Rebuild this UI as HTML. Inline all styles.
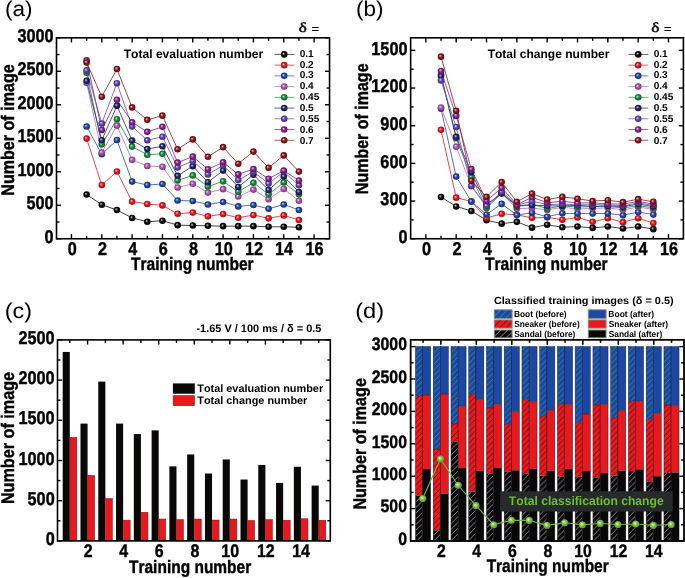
<!DOCTYPE html>
<html><head><meta charset="utf-8"><style>
html,body{margin:0;padding:0;background:#fff;}
svg{display:block;will-change:transform;}
text{font-kerning:none;text-rendering:geometricPrecision;}
</style></head><body>
<svg width="685" height="578" viewBox="0 0 685 578">
<rect width="685" height="578" fill="#fff"/>
<defs><radialGradient id="gk" cx="0.5" cy="0.5" r="0.55" fx="0.37" fy="0.36"><stop offset="0" stop-color="#cecece"/><stop offset="0.18" stop-color="#787878"/><stop offset="0.45" stop-color="#0a0a0a"/><stop offset="1" stop-color="#060606"/></radialGradient><radialGradient id="gr" cx="0.5" cy="0.5" r="0.55" fx="0.37" fy="0.36"><stop offset="0" stop-color="#fad0d2"/><stop offset="0.18" stop-color="#f27e82"/><stop offset="0.45" stop-color="#e8141c"/><stop offset="1" stop-color="#970d12"/></radialGradient><radialGradient id="gb" cx="0.5" cy="0.5" r="0.55" fx="0.37" fy="0.36"><stop offset="0" stop-color="#d2daee"/><stop offset="0.18" stop-color="#8499cf"/><stop offset="0.45" stop-color="#1f45a8"/><stop offset="1" stop-color="#142d6d"/></radialGradient><radialGradient id="gp" cx="0.5" cy="0.5" r="0.55" fx="0.37" fy="0.36"><stop offset="0" stop-color="#efdcef"/><stop offset="0.18" stop-color="#d49fd4"/><stop offset="0.45" stop-color="#b050b0"/><stop offset="1" stop-color="#723472"/></radialGradient><radialGradient id="gg" cx="0.5" cy="0.5" r="0.55" fx="0.37" fy="0.36"><stop offset="0" stop-color="#d1e8d7"/><stop offset="0.18" stop-color="#80bf92"/><stop offset="0.45" stop-color="#188a38"/><stop offset="1" stop-color="#105a24"/></radialGradient><radialGradient id="gn" cx="0.5" cy="0.5" r="0.55" fx="0.37" fy="0.36"><stop offset="0" stop-color="#d2d3e1"/><stop offset="0.18" stop-color="#8287ac"/><stop offset="0.45" stop-color="#1c2468"/><stop offset="1" stop-color="#121744"/></radialGradient><radialGradient id="gv" cx="0.5" cy="0.5" r="0.55" fx="0.37" fy="0.36"><stop offset="0" stop-color="#dfd9ef"/><stop offset="0.18" stop-color="#a896d4"/><stop offset="0.45" stop-color="#6040b0"/><stop offset="1" stop-color="#3e2a72"/></radialGradient><radialGradient id="gu" cx="0.5" cy="0.5" r="0.55" fx="0.37" fy="0.36"><stop offset="0" stop-color="#e6d2e8"/><stop offset="0.18" stop-color="#bb84c0"/><stop offset="0.45" stop-color="#84208c"/><stop offset="1" stop-color="#56155b"/></radialGradient><radialGradient id="gm" cx="0.5" cy="0.5" r="0.55" fx="0.37" fy="0.36"><stop offset="0" stop-color="#e8d0d1"/><stop offset="0.18" stop-color="#c07e80"/><stop offset="0.45" stop-color="#8c1418"/><stop offset="1" stop-color="#5b0d10"/></radialGradient><radialGradient id="gL" cx="0.5" cy="0.5" r="0.55" fx="0.37" fy="0.36"><stop offset="0" stop-color="#e7f5da"/><stop offset="0.18" stop-color="#bce39a"/><stop offset="0.45" stop-color="#86cc48"/><stop offset="1" stop-color="#57852f"/></radialGradient></defs>
<polyline points="86.62,194.53 101.78,204.73 116.94,210.00 132.11,217.93 147.27,221.73 162.44,220.73 177.61,225.13 192.77,225.47 207.94,225.80 223.10,226.13 238.26,226.13 253.43,226.13 268.59,226.80 283.76,226.80 298.93,227.20" fill="none" stroke="#222" stroke-width="1" stroke-opacity="0.85"/>
<polyline points="86.62,138.60 101.78,185.00 116.94,171.53 132.11,201.60 147.27,204.00 162.44,205.40 177.61,213.73 192.77,212.60 207.94,216.33 223.10,214.00 238.26,217.80 253.43,215.00 268.59,218.33 283.76,215.40 298.93,220.00" fill="none" stroke="#e8242c" stroke-width="1" stroke-opacity="0.85"/>
<polyline points="86.62,126.47 101.78,154.27 116.94,140.00 132.11,181.60 147.27,185.00 162.44,184.00 177.61,200.53 192.77,200.93 207.94,204.53 223.10,201.93 238.26,206.40 253.43,205.00 268.59,208.80 283.76,204.53 298.93,209.93" fill="none" stroke="#3558b0" stroke-width="1" stroke-opacity="0.85"/>
<polyline points="86.62,82.87 101.78,152.60 116.94,125.60 132.11,159.87 147.27,166.00 162.44,166.73 177.61,187.53 192.77,183.73 207.94,192.60 223.10,189.13 238.26,196.53 253.43,189.60 268.59,199.27 283.76,188.93 298.93,200.73" fill="none" stroke="#c070c0" stroke-width="1" stroke-opacity="0.85"/>
<polyline points="86.62,72.80 101.78,144.33 116.94,119.20 132.11,146.60 147.27,154.73 162.44,153.73 177.61,180.40 192.77,175.40 207.94,186.53 223.10,181.33 238.26,191.73 253.43,182.73 268.59,194.33 283.76,182.40 298.93,194.33" fill="none" stroke="#209040" stroke-width="1" stroke-opacity="0.85"/>
<polyline points="86.62,80.80 101.78,140.20 116.94,105.73 132.11,140.60 147.27,149.00 162.44,146.27 177.61,175.80 192.77,166.13 207.94,182.20 223.10,170.60 238.26,186.93 253.43,174.73 268.59,190.00 283.76,176.53 298.93,192.00" fill="none" stroke="#2a3478" stroke-width="1" stroke-opacity="0.85"/>
<polyline points="86.62,70.40 101.78,123.53 116.94,83.20 132.11,126.47 147.27,140.20 162.44,136.73 177.61,167.47 192.77,160.93 207.94,174.40 223.10,165.40 238.26,179.93 253.43,171.80 268.59,183.60 283.76,171.80 298.93,185.27" fill="none" stroke="#7058b8" stroke-width="1" stroke-opacity="0.85"/>
<polyline points="86.62,60.40 101.78,129.93 116.94,99.73 132.11,122.27 147.27,131.87 162.44,126.80 177.61,162.60 192.77,156.60 207.94,169.20 223.10,162.33 238.26,174.40 253.43,168.93 268.59,178.73 283.76,170.60 298.93,180.60" fill="none" stroke="#902a98" stroke-width="1" stroke-opacity="0.85"/>
<polyline points="86.62,62.47 101.78,96.73 116.94,69.00 132.11,107.40 147.27,119.87 162.44,115.67 177.61,149.27 192.77,139.40 207.94,156.73 223.10,147.13 238.26,163.73 253.43,151.60 268.59,167.80 283.76,155.40 298.93,171.60" fill="none" stroke="#94242a" stroke-width="1" stroke-opacity="0.85"/>
<circle cx="86.62" cy="194.53" r="3.3" fill="url(#gk)"/>
<circle cx="101.78" cy="204.73" r="3.3" fill="url(#gk)"/>
<circle cx="116.94" cy="210.00" r="3.3" fill="url(#gk)"/>
<circle cx="132.11" cy="217.93" r="3.3" fill="url(#gk)"/>
<circle cx="147.27" cy="221.73" r="3.3" fill="url(#gk)"/>
<circle cx="162.44" cy="220.73" r="3.3" fill="url(#gk)"/>
<circle cx="177.61" cy="225.13" r="3.3" fill="url(#gk)"/>
<circle cx="192.77" cy="225.47" r="3.3" fill="url(#gk)"/>
<circle cx="207.94" cy="225.80" r="3.3" fill="url(#gk)"/>
<circle cx="223.10" cy="226.13" r="3.3" fill="url(#gk)"/>
<circle cx="238.26" cy="226.13" r="3.3" fill="url(#gk)"/>
<circle cx="253.43" cy="226.13" r="3.3" fill="url(#gk)"/>
<circle cx="268.59" cy="226.80" r="3.3" fill="url(#gk)"/>
<circle cx="283.76" cy="226.80" r="3.3" fill="url(#gk)"/>
<circle cx="298.93" cy="227.20" r="3.3" fill="url(#gk)"/>
<circle cx="86.62" cy="138.60" r="3.3" fill="url(#gr)"/>
<circle cx="101.78" cy="185.00" r="3.3" fill="url(#gr)"/>
<circle cx="116.94" cy="171.53" r="3.3" fill="url(#gr)"/>
<circle cx="132.11" cy="201.60" r="3.3" fill="url(#gr)"/>
<circle cx="147.27" cy="204.00" r="3.3" fill="url(#gr)"/>
<circle cx="162.44" cy="205.40" r="3.3" fill="url(#gr)"/>
<circle cx="177.61" cy="213.73" r="3.3" fill="url(#gr)"/>
<circle cx="192.77" cy="212.60" r="3.3" fill="url(#gr)"/>
<circle cx="207.94" cy="216.33" r="3.3" fill="url(#gr)"/>
<circle cx="223.10" cy="214.00" r="3.3" fill="url(#gr)"/>
<circle cx="238.26" cy="217.80" r="3.3" fill="url(#gr)"/>
<circle cx="253.43" cy="215.00" r="3.3" fill="url(#gr)"/>
<circle cx="268.59" cy="218.33" r="3.3" fill="url(#gr)"/>
<circle cx="283.76" cy="215.40" r="3.3" fill="url(#gr)"/>
<circle cx="298.93" cy="220.00" r="3.3" fill="url(#gr)"/>
<circle cx="86.62" cy="126.47" r="3.3" fill="url(#gb)"/>
<circle cx="101.78" cy="154.27" r="3.3" fill="url(#gb)"/>
<circle cx="116.94" cy="140.00" r="3.3" fill="url(#gb)"/>
<circle cx="132.11" cy="181.60" r="3.3" fill="url(#gb)"/>
<circle cx="147.27" cy="185.00" r="3.3" fill="url(#gb)"/>
<circle cx="162.44" cy="184.00" r="3.3" fill="url(#gb)"/>
<circle cx="177.61" cy="200.53" r="3.3" fill="url(#gb)"/>
<circle cx="192.77" cy="200.93" r="3.3" fill="url(#gb)"/>
<circle cx="207.94" cy="204.53" r="3.3" fill="url(#gb)"/>
<circle cx="223.10" cy="201.93" r="3.3" fill="url(#gb)"/>
<circle cx="238.26" cy="206.40" r="3.3" fill="url(#gb)"/>
<circle cx="253.43" cy="205.00" r="3.3" fill="url(#gb)"/>
<circle cx="268.59" cy="208.80" r="3.3" fill="url(#gb)"/>
<circle cx="283.76" cy="204.53" r="3.3" fill="url(#gb)"/>
<circle cx="298.93" cy="209.93" r="3.3" fill="url(#gb)"/>
<circle cx="86.62" cy="82.87" r="3.3" fill="url(#gp)"/>
<circle cx="101.78" cy="152.60" r="3.3" fill="url(#gp)"/>
<circle cx="116.94" cy="125.60" r="3.3" fill="url(#gp)"/>
<circle cx="132.11" cy="159.87" r="3.3" fill="url(#gp)"/>
<circle cx="147.27" cy="166.00" r="3.3" fill="url(#gp)"/>
<circle cx="162.44" cy="166.73" r="3.3" fill="url(#gp)"/>
<circle cx="177.61" cy="187.53" r="3.3" fill="url(#gp)"/>
<circle cx="192.77" cy="183.73" r="3.3" fill="url(#gp)"/>
<circle cx="207.94" cy="192.60" r="3.3" fill="url(#gp)"/>
<circle cx="223.10" cy="189.13" r="3.3" fill="url(#gp)"/>
<circle cx="238.26" cy="196.53" r="3.3" fill="url(#gp)"/>
<circle cx="253.43" cy="189.60" r="3.3" fill="url(#gp)"/>
<circle cx="268.59" cy="199.27" r="3.3" fill="url(#gp)"/>
<circle cx="283.76" cy="188.93" r="3.3" fill="url(#gp)"/>
<circle cx="298.93" cy="200.73" r="3.3" fill="url(#gp)"/>
<circle cx="86.62" cy="72.80" r="3.3" fill="url(#gg)"/>
<circle cx="101.78" cy="144.33" r="3.3" fill="url(#gg)"/>
<circle cx="116.94" cy="119.20" r="3.3" fill="url(#gg)"/>
<circle cx="132.11" cy="146.60" r="3.3" fill="url(#gg)"/>
<circle cx="147.27" cy="154.73" r="3.3" fill="url(#gg)"/>
<circle cx="162.44" cy="153.73" r="3.3" fill="url(#gg)"/>
<circle cx="177.61" cy="180.40" r="3.3" fill="url(#gg)"/>
<circle cx="192.77" cy="175.40" r="3.3" fill="url(#gg)"/>
<circle cx="207.94" cy="186.53" r="3.3" fill="url(#gg)"/>
<circle cx="223.10" cy="181.33" r="3.3" fill="url(#gg)"/>
<circle cx="238.26" cy="191.73" r="3.3" fill="url(#gg)"/>
<circle cx="253.43" cy="182.73" r="3.3" fill="url(#gg)"/>
<circle cx="268.59" cy="194.33" r="3.3" fill="url(#gg)"/>
<circle cx="283.76" cy="182.40" r="3.3" fill="url(#gg)"/>
<circle cx="298.93" cy="194.33" r="3.3" fill="url(#gg)"/>
<circle cx="86.62" cy="80.80" r="3.3" fill="url(#gn)"/>
<circle cx="101.78" cy="140.20" r="3.3" fill="url(#gn)"/>
<circle cx="116.94" cy="105.73" r="3.3" fill="url(#gn)"/>
<circle cx="132.11" cy="140.60" r="3.3" fill="url(#gn)"/>
<circle cx="147.27" cy="149.00" r="3.3" fill="url(#gn)"/>
<circle cx="162.44" cy="146.27" r="3.3" fill="url(#gn)"/>
<circle cx="177.61" cy="175.80" r="3.3" fill="url(#gn)"/>
<circle cx="192.77" cy="166.13" r="3.3" fill="url(#gn)"/>
<circle cx="207.94" cy="182.20" r="3.3" fill="url(#gn)"/>
<circle cx="223.10" cy="170.60" r="3.3" fill="url(#gn)"/>
<circle cx="238.26" cy="186.93" r="3.3" fill="url(#gn)"/>
<circle cx="253.43" cy="174.73" r="3.3" fill="url(#gn)"/>
<circle cx="268.59" cy="190.00" r="3.3" fill="url(#gn)"/>
<circle cx="283.76" cy="176.53" r="3.3" fill="url(#gn)"/>
<circle cx="298.93" cy="192.00" r="3.3" fill="url(#gn)"/>
<circle cx="86.62" cy="70.40" r="3.3" fill="url(#gv)"/>
<circle cx="101.78" cy="123.53" r="3.3" fill="url(#gv)"/>
<circle cx="116.94" cy="83.20" r="3.3" fill="url(#gv)"/>
<circle cx="132.11" cy="126.47" r="3.3" fill="url(#gv)"/>
<circle cx="147.27" cy="140.20" r="3.3" fill="url(#gv)"/>
<circle cx="162.44" cy="136.73" r="3.3" fill="url(#gv)"/>
<circle cx="177.61" cy="167.47" r="3.3" fill="url(#gv)"/>
<circle cx="192.77" cy="160.93" r="3.3" fill="url(#gv)"/>
<circle cx="207.94" cy="174.40" r="3.3" fill="url(#gv)"/>
<circle cx="223.10" cy="165.40" r="3.3" fill="url(#gv)"/>
<circle cx="238.26" cy="179.93" r="3.3" fill="url(#gv)"/>
<circle cx="253.43" cy="171.80" r="3.3" fill="url(#gv)"/>
<circle cx="268.59" cy="183.60" r="3.3" fill="url(#gv)"/>
<circle cx="283.76" cy="171.80" r="3.3" fill="url(#gv)"/>
<circle cx="298.93" cy="185.27" r="3.3" fill="url(#gv)"/>
<circle cx="86.62" cy="60.40" r="3.3" fill="url(#gu)"/>
<circle cx="101.78" cy="129.93" r="3.3" fill="url(#gu)"/>
<circle cx="116.94" cy="99.73" r="3.3" fill="url(#gu)"/>
<circle cx="132.11" cy="122.27" r="3.3" fill="url(#gu)"/>
<circle cx="147.27" cy="131.87" r="3.3" fill="url(#gu)"/>
<circle cx="162.44" cy="126.80" r="3.3" fill="url(#gu)"/>
<circle cx="177.61" cy="162.60" r="3.3" fill="url(#gu)"/>
<circle cx="192.77" cy="156.60" r="3.3" fill="url(#gu)"/>
<circle cx="207.94" cy="169.20" r="3.3" fill="url(#gu)"/>
<circle cx="223.10" cy="162.33" r="3.3" fill="url(#gu)"/>
<circle cx="238.26" cy="174.40" r="3.3" fill="url(#gu)"/>
<circle cx="253.43" cy="168.93" r="3.3" fill="url(#gu)"/>
<circle cx="268.59" cy="178.73" r="3.3" fill="url(#gu)"/>
<circle cx="283.76" cy="170.60" r="3.3" fill="url(#gu)"/>
<circle cx="298.93" cy="180.60" r="3.3" fill="url(#gu)"/>
<circle cx="86.62" cy="62.47" r="3.3" fill="url(#gm)"/>
<circle cx="101.78" cy="96.73" r="3.3" fill="url(#gm)"/>
<circle cx="116.94" cy="69.00" r="3.3" fill="url(#gm)"/>
<circle cx="132.11" cy="107.40" r="3.3" fill="url(#gm)"/>
<circle cx="147.27" cy="119.87" r="3.3" fill="url(#gm)"/>
<circle cx="162.44" cy="115.67" r="3.3" fill="url(#gm)"/>
<circle cx="177.61" cy="149.27" r="3.3" fill="url(#gm)"/>
<circle cx="192.77" cy="139.40" r="3.3" fill="url(#gm)"/>
<circle cx="207.94" cy="156.73" r="3.3" fill="url(#gm)"/>
<circle cx="223.10" cy="147.13" r="3.3" fill="url(#gm)"/>
<circle cx="238.26" cy="163.73" r="3.3" fill="url(#gm)"/>
<circle cx="253.43" cy="151.60" r="3.3" fill="url(#gm)"/>
<circle cx="268.59" cy="167.80" r="3.3" fill="url(#gm)"/>
<circle cx="283.76" cy="155.40" r="3.3" fill="url(#gm)"/>
<circle cx="298.93" cy="171.60" r="3.3" fill="url(#gm)"/>
<rect x="56.50" y="37.80" width="273.05" height="200.95" fill="none" stroke="#000" stroke-width="1.6"/>
<line x1="71.45" y1="238.75" x2="71.45" y2="234.15" stroke="#000" stroke-width="1.4"/>
<line x1="71.45" y1="37.80" x2="71.45" y2="42.40" stroke="#000" stroke-width="1.4"/>
<line x1="86.62" y1="238.75" x2="86.62" y2="235.75" stroke="#000" stroke-width="1.4"/>
<line x1="86.62" y1="37.80" x2="86.62" y2="40.80" stroke="#000" stroke-width="1.4"/>
<line x1="101.78" y1="238.75" x2="101.78" y2="234.15" stroke="#000" stroke-width="1.4"/>
<line x1="101.78" y1="37.80" x2="101.78" y2="42.40" stroke="#000" stroke-width="1.4"/>
<line x1="116.94" y1="238.75" x2="116.94" y2="235.75" stroke="#000" stroke-width="1.4"/>
<line x1="116.94" y1="37.80" x2="116.94" y2="40.80" stroke="#000" stroke-width="1.4"/>
<line x1="132.11" y1="238.75" x2="132.11" y2="234.15" stroke="#000" stroke-width="1.4"/>
<line x1="132.11" y1="37.80" x2="132.11" y2="42.40" stroke="#000" stroke-width="1.4"/>
<line x1="147.27" y1="238.75" x2="147.27" y2="235.75" stroke="#000" stroke-width="1.4"/>
<line x1="147.27" y1="37.80" x2="147.27" y2="40.80" stroke="#000" stroke-width="1.4"/>
<line x1="162.44" y1="238.75" x2="162.44" y2="234.15" stroke="#000" stroke-width="1.4"/>
<line x1="162.44" y1="37.80" x2="162.44" y2="42.40" stroke="#000" stroke-width="1.4"/>
<line x1="177.61" y1="238.75" x2="177.61" y2="235.75" stroke="#000" stroke-width="1.4"/>
<line x1="177.61" y1="37.80" x2="177.61" y2="40.80" stroke="#000" stroke-width="1.4"/>
<line x1="192.77" y1="238.75" x2="192.77" y2="234.15" stroke="#000" stroke-width="1.4"/>
<line x1="192.77" y1="37.80" x2="192.77" y2="42.40" stroke="#000" stroke-width="1.4"/>
<line x1="207.94" y1="238.75" x2="207.94" y2="235.75" stroke="#000" stroke-width="1.4"/>
<line x1="207.94" y1="37.80" x2="207.94" y2="40.80" stroke="#000" stroke-width="1.4"/>
<line x1="223.10" y1="238.75" x2="223.10" y2="234.15" stroke="#000" stroke-width="1.4"/>
<line x1="223.10" y1="37.80" x2="223.10" y2="42.40" stroke="#000" stroke-width="1.4"/>
<line x1="238.26" y1="238.75" x2="238.26" y2="235.75" stroke="#000" stroke-width="1.4"/>
<line x1="238.26" y1="37.80" x2="238.26" y2="40.80" stroke="#000" stroke-width="1.4"/>
<line x1="253.43" y1="238.75" x2="253.43" y2="234.15" stroke="#000" stroke-width="1.4"/>
<line x1="253.43" y1="37.80" x2="253.43" y2="42.40" stroke="#000" stroke-width="1.4"/>
<line x1="268.59" y1="238.75" x2="268.59" y2="235.75" stroke="#000" stroke-width="1.4"/>
<line x1="268.59" y1="37.80" x2="268.59" y2="40.80" stroke="#000" stroke-width="1.4"/>
<line x1="283.76" y1="238.75" x2="283.76" y2="234.15" stroke="#000" stroke-width="1.4"/>
<line x1="283.76" y1="37.80" x2="283.76" y2="42.40" stroke="#000" stroke-width="1.4"/>
<line x1="298.93" y1="238.75" x2="298.93" y2="235.75" stroke="#000" stroke-width="1.4"/>
<line x1="298.93" y1="37.80" x2="298.93" y2="40.80" stroke="#000" stroke-width="1.4"/>
<line x1="314.09" y1="238.75" x2="314.09" y2="234.15" stroke="#000" stroke-width="1.4"/>
<line x1="314.09" y1="37.80" x2="314.09" y2="42.40" stroke="#000" stroke-width="1.4"/>
<line x1="56.50" y1="238.75" x2="61.10" y2="238.75" stroke="#000" stroke-width="1.4"/>
<line x1="329.55" y1="238.75" x2="324.95" y2="238.75" stroke="#000" stroke-width="1.4"/>
<line x1="56.50" y1="222.00" x2="59.50" y2="222.00" stroke="#000" stroke-width="1.4"/>
<line x1="329.55" y1="222.00" x2="326.55" y2="222.00" stroke="#000" stroke-width="1.4"/>
<line x1="56.50" y1="205.26" x2="61.10" y2="205.26" stroke="#000" stroke-width="1.4"/>
<line x1="329.55" y1="205.26" x2="324.95" y2="205.26" stroke="#000" stroke-width="1.4"/>
<line x1="56.50" y1="188.51" x2="59.50" y2="188.51" stroke="#000" stroke-width="1.4"/>
<line x1="329.55" y1="188.51" x2="326.55" y2="188.51" stroke="#000" stroke-width="1.4"/>
<line x1="56.50" y1="171.77" x2="61.10" y2="171.77" stroke="#000" stroke-width="1.4"/>
<line x1="329.55" y1="171.77" x2="324.95" y2="171.77" stroke="#000" stroke-width="1.4"/>
<line x1="56.50" y1="155.02" x2="59.50" y2="155.02" stroke="#000" stroke-width="1.4"/>
<line x1="329.55" y1="155.02" x2="326.55" y2="155.02" stroke="#000" stroke-width="1.4"/>
<line x1="56.50" y1="138.28" x2="61.10" y2="138.28" stroke="#000" stroke-width="1.4"/>
<line x1="329.55" y1="138.28" x2="324.95" y2="138.28" stroke="#000" stroke-width="1.4"/>
<line x1="56.50" y1="121.53" x2="59.50" y2="121.53" stroke="#000" stroke-width="1.4"/>
<line x1="329.55" y1="121.53" x2="326.55" y2="121.53" stroke="#000" stroke-width="1.4"/>
<line x1="56.50" y1="104.78" x2="61.10" y2="104.78" stroke="#000" stroke-width="1.4"/>
<line x1="329.55" y1="104.78" x2="324.95" y2="104.78" stroke="#000" stroke-width="1.4"/>
<line x1="56.50" y1="88.04" x2="59.50" y2="88.04" stroke="#000" stroke-width="1.4"/>
<line x1="329.55" y1="88.04" x2="326.55" y2="88.04" stroke="#000" stroke-width="1.4"/>
<line x1="56.50" y1="71.29" x2="61.10" y2="71.29" stroke="#000" stroke-width="1.4"/>
<line x1="329.55" y1="71.29" x2="324.95" y2="71.29" stroke="#000" stroke-width="1.4"/>
<line x1="56.50" y1="54.55" x2="59.50" y2="54.55" stroke="#000" stroke-width="1.4"/>
<line x1="329.55" y1="54.55" x2="326.55" y2="54.55" stroke="#000" stroke-width="1.4"/>
<line x1="56.50" y1="37.80" x2="61.10" y2="37.80" stroke="#000" stroke-width="1.4"/>
<line x1="329.55" y1="37.80" x2="324.95" y2="37.80" stroke="#000" stroke-width="1.4"/>
<text x="17.43" y="41.95" font-family="Liberation Sans" font-weight="bold" font-size="18.50" textLength="36.13" lengthAdjust="spacingAndGlyphs" fill="#000" stroke="#000" stroke-width="0.4">3000</text>
<text x="17.43" y="75.44" font-family="Liberation Sans" font-weight="bold" font-size="18.50" textLength="36.13" lengthAdjust="spacingAndGlyphs" fill="#000" stroke="#000" stroke-width="0.4">2500</text>
<text x="17.43" y="108.93" font-family="Liberation Sans" font-weight="bold" font-size="18.50" textLength="36.13" lengthAdjust="spacingAndGlyphs" fill="#000" stroke="#000" stroke-width="0.4">2000</text>
<text x="17.43" y="142.43" font-family="Liberation Sans" font-weight="bold" font-size="18.50" textLength="36.13" lengthAdjust="spacingAndGlyphs" fill="#000" stroke="#000" stroke-width="0.4">1500</text>
<text x="17.43" y="175.92" font-family="Liberation Sans" font-weight="bold" font-size="18.50" textLength="36.13" lengthAdjust="spacingAndGlyphs" fill="#000" stroke="#000" stroke-width="0.4">1000</text>
<text x="26.47" y="209.41" font-family="Liberation Sans" font-weight="bold" font-size="18.50" textLength="27.10" lengthAdjust="spacingAndGlyphs" fill="#000" stroke="#000" stroke-width="0.4">500</text>
<text x="44.53" y="242.90" font-family="Liberation Sans" font-weight="bold" font-size="18.50" textLength="9.03" lengthAdjust="spacingAndGlyphs" fill="#000" stroke="#000" stroke-width="0.4">0</text>
<text x="67.70" y="255.35" font-family="Liberation Sans" font-weight="bold" font-size="18.50" textLength="9.03" lengthAdjust="spacingAndGlyphs" fill="#000" stroke="#000" stroke-width="0.4">0</text>
<text x="98.06" y="255.35" font-family="Liberation Sans" font-weight="bold" font-size="18.50" textLength="9.03" lengthAdjust="spacingAndGlyphs" fill="#000" stroke="#000" stroke-width="0.4">2</text>
<text x="128.26" y="255.35" font-family="Liberation Sans" font-weight="bold" font-size="18.50" textLength="9.03" lengthAdjust="spacingAndGlyphs" fill="#000" stroke="#000" stroke-width="0.4">4</text>
<text x="158.67" y="255.35" font-family="Liberation Sans" font-weight="bold" font-size="18.50" textLength="9.03" lengthAdjust="spacingAndGlyphs" fill="#000" stroke="#000" stroke-width="0.4">6</text>
<text x="189.00" y="255.35" font-family="Liberation Sans" font-weight="bold" font-size="18.50" textLength="9.03" lengthAdjust="spacingAndGlyphs" fill="#000" stroke="#000" stroke-width="0.4">8</text>
<text x="214.64" y="255.35" font-family="Liberation Sans" font-weight="bold" font-size="18.50" textLength="18.07" lengthAdjust="spacingAndGlyphs" fill="#000" stroke="#000" stroke-width="0.4">10</text>
<text x="244.96" y="255.35" font-family="Liberation Sans" font-weight="bold" font-size="18.50" textLength="18.07" lengthAdjust="spacingAndGlyphs" fill="#000" stroke="#000" stroke-width="0.4">12</text>
<text x="275.01" y="255.35" font-family="Liberation Sans" font-weight="bold" font-size="18.50" textLength="18.07" lengthAdjust="spacingAndGlyphs" fill="#000" stroke="#000" stroke-width="0.4">14</text>
<text x="305.59" y="255.35" font-family="Liberation Sans" font-weight="bold" font-size="18.50" textLength="18.07" lengthAdjust="spacingAndGlyphs" fill="#000" stroke="#000" stroke-width="0.4">16</text>
<line x1="274.40" y1="54.40" x2="294.30" y2="54.40" stroke="#222" stroke-width="1" stroke-opacity="0.75"/>
<circle cx="284.20" cy="54.40" r="3.3" fill="url(#gk)"/>
<text x="299.70" y="56.70" font-family="Liberation Sans" font-weight="bold" font-size="10.00" textLength="14.03" lengthAdjust="spacingAndGlyphs" fill="#000">0.1</text>
<line x1="274.40" y1="65.13" x2="294.30" y2="65.13" stroke="#e8242c" stroke-width="1" stroke-opacity="0.75"/>
<circle cx="284.20" cy="65.13" r="3.3" fill="url(#gr)"/>
<text x="299.70" y="67.59" font-family="Liberation Sans" font-weight="bold" font-size="10.00" textLength="14.03" lengthAdjust="spacingAndGlyphs" fill="#000">0.2</text>
<line x1="274.40" y1="75.86" x2="294.30" y2="75.86" stroke="#3558b0" stroke-width="1" stroke-opacity="0.75"/>
<circle cx="284.20" cy="75.86" r="3.3" fill="url(#gb)"/>
<text x="299.70" y="78.48" font-family="Liberation Sans" font-weight="bold" font-size="10.00" textLength="14.03" lengthAdjust="spacingAndGlyphs" fill="#000">0.3</text>
<line x1="274.40" y1="86.59" x2="294.30" y2="86.59" stroke="#c070c0" stroke-width="1" stroke-opacity="0.75"/>
<circle cx="284.20" cy="86.59" r="3.3" fill="url(#gp)"/>
<text x="299.70" y="89.37" font-family="Liberation Sans" font-weight="bold" font-size="10.00" textLength="14.03" lengthAdjust="spacingAndGlyphs" fill="#000">0.4</text>
<line x1="274.40" y1="97.32" x2="294.30" y2="97.32" stroke="#209040" stroke-width="1" stroke-opacity="0.75"/>
<circle cx="284.20" cy="97.32" r="3.3" fill="url(#gg)"/>
<text x="299.70" y="100.26" font-family="Liberation Sans" font-weight="bold" font-size="10.00" textLength="19.65" lengthAdjust="spacingAndGlyphs" fill="#000">0.45</text>
<line x1="274.40" y1="108.05" x2="294.30" y2="108.05" stroke="#2a3478" stroke-width="1" stroke-opacity="0.75"/>
<circle cx="284.20" cy="108.05" r="3.3" fill="url(#gn)"/>
<text x="299.70" y="111.15" font-family="Liberation Sans" font-weight="bold" font-size="10.00" textLength="14.03" lengthAdjust="spacingAndGlyphs" fill="#000">0.5</text>
<line x1="274.40" y1="118.78" x2="294.30" y2="118.78" stroke="#7058b8" stroke-width="1" stroke-opacity="0.75"/>
<circle cx="284.20" cy="118.78" r="3.3" fill="url(#gv)"/>
<text x="299.70" y="122.04" font-family="Liberation Sans" font-weight="bold" font-size="10.00" textLength="19.65" lengthAdjust="spacingAndGlyphs" fill="#000">0.55</text>
<line x1="274.40" y1="129.51" x2="294.30" y2="129.51" stroke="#902a98" stroke-width="1" stroke-opacity="0.75"/>
<circle cx="284.20" cy="129.51" r="3.3" fill="url(#gu)"/>
<text x="299.70" y="132.93" font-family="Liberation Sans" font-weight="bold" font-size="10.00" textLength="14.03" lengthAdjust="spacingAndGlyphs" fill="#000">0.6</text>
<line x1="274.40" y1="140.24" x2="294.30" y2="140.24" stroke="#94242a" stroke-width="1" stroke-opacity="0.75"/>
<circle cx="284.20" cy="140.24" r="3.3" fill="url(#gm)"/>
<text x="299.70" y="143.82" font-family="Liberation Sans" font-weight="bold" font-size="10.00" textLength="14.03" lengthAdjust="spacingAndGlyphs" fill="#000">0.7</text>
<text x="298.75" y="32.40" font-family="Liberation Serif" font-weight="normal" font-size="13.60" textLength="8.09" lengthAdjust="spacingAndGlyphs" fill="#000" stroke="#000" stroke-width="0.45">δ</text>
<text x="311.47" y="32.73" font-family="Liberation Sans" font-weight="normal" font-size="12.10" textLength="7.57" lengthAdjust="spacingAndGlyphs" fill="#000" stroke="#000" stroke-width="0.25">=</text>
<text x="123.76" y="58.45" font-family="Liberation Sans" font-weight="bold" font-size="12.20" textLength="139.42" lengthAdjust="spacingAndGlyphs" fill="#000">Total evaluation number</text>
<text x="5.00" y="16.00" font-family="Liberation Sans" font-weight="normal" font-size="21.50" textLength="27.60" lengthAdjust="spacingAndGlyphs" fill="#000">(a)</text>
<text x="130.93" y="269.80" font-family="Liberation Sans" font-weight="bold" font-size="18.00" textLength="122.71" lengthAdjust="spacingAndGlyphs" fill="#000" stroke="#000" stroke-width="0.4">Training number</text>
<text transform="translate(14.00,194.60) rotate(-90)" x="-1.08" y="0" font-family="Liberation Sans" font-weight="bold" font-size="18.20" textLength="131.33" lengthAdjust="spacingAndGlyphs" stroke="#000" stroke-width="0.4">Number of image</text>
<polyline points="441.01,197.01 456.18,206.43 471.34,210.95 486.51,220.24 501.67,223.63 516.84,221.87 532.00,227.65 547.17,224.76 562.33,227.27 577.50,226.52 592.66,227.90 607.83,226.52 622.99,228.53 638.16,226.52 653.32,229.16" fill="none" stroke="#222" stroke-width="1" stroke-opacity="0.85"/>
<polyline points="441.01,129.84 456.18,197.64 471.34,201.53 486.51,217.98 501.67,213.84 516.84,214.84 532.00,217.86 547.17,217.35 562.33,219.74 577.50,217.48 592.66,221.87 607.83,218.23 622.99,222.13 638.16,218.23 653.32,223.00" fill="none" stroke="#e8242c" stroke-width="1" stroke-opacity="0.85"/>
<polyline points="441.01,108.74 456.18,176.55 471.34,201.53 486.51,214.47 501.67,203.92 516.84,215.09 532.00,212.71 547.17,216.73 562.33,213.34 577.50,213.59 592.66,213.59 607.83,213.46 622.99,215.22 638.16,212.08 653.32,214.59" fill="none" stroke="#3558b0" stroke-width="1" stroke-opacity="0.85"/>
<polyline points="441.01,107.61 456.18,146.79 471.34,186.21 486.51,207.31 501.67,192.87 516.84,208.82 532.00,207.94 547.17,209.95 562.33,207.31 577.50,208.82 592.66,208.56 607.83,207.81 622.99,209.95 638.16,207.06 653.32,209.44" fill="none" stroke="#c070c0" stroke-width="1" stroke-opacity="0.85"/>
<polyline points="441.01,74.21 456.18,138.25 471.34,177.17 486.51,208.06 501.67,193.25 516.84,206.68 532.00,204.17 547.17,208.56 562.33,205.80 577.50,207.06 592.66,206.56 607.83,206.56 622.99,207.81 638.16,205.80 653.32,207.81" fill="none" stroke="#209040" stroke-width="1" stroke-opacity="0.85"/>
<polyline points="441.01,76.09 456.18,136.87 471.34,172.15 486.51,204.55 501.67,193.62 516.84,205.43 532.00,205.17 547.17,205.80 562.33,205.93 577.50,205.30 592.66,206.43 607.83,205.80 622.99,206.68 638.16,204.04 653.32,206.56" fill="none" stroke="#2a3478" stroke-width="1" stroke-opacity="0.85"/>
<polyline points="441.01,80.49 456.18,126.95 471.34,185.84 486.51,205.80 501.67,191.74 516.84,205.17 532.00,201.28 547.17,204.55 562.33,204.04 577.50,204.80 592.66,204.80 607.83,204.80 622.99,205.80 638.16,202.91 653.32,205.30" fill="none" stroke="#7058b8" stroke-width="1" stroke-opacity="0.85"/>
<polyline points="441.01,70.95 456.18,115.90 471.34,169.14 486.51,200.90 501.67,187.85 516.84,204.80 532.00,197.26 547.17,202.66 562.33,201.28 577.50,203.04 592.66,202.91 607.83,203.92 622.99,204.04 638.16,201.53 653.32,204.04" fill="none" stroke="#902a98" stroke-width="1" stroke-opacity="0.85"/>
<polyline points="441.01,56.63 456.18,110.75 471.34,180.69 486.51,196.89 501.67,182.07 516.84,201.78 532.00,193.62 547.17,199.52 562.33,196.89 577.50,198.77 592.66,201.03 607.83,200.28 622.99,202.16 638.16,199.15 653.32,201.78" fill="none" stroke="#94242a" stroke-width="1" stroke-opacity="0.85"/>
<circle cx="441.01" cy="197.01" r="3.3" fill="url(#gk)"/>
<circle cx="456.18" cy="206.43" r="3.3" fill="url(#gk)"/>
<circle cx="471.34" cy="210.95" r="3.3" fill="url(#gk)"/>
<circle cx="486.51" cy="220.24" r="3.3" fill="url(#gk)"/>
<circle cx="501.67" cy="223.63" r="3.3" fill="url(#gk)"/>
<circle cx="516.84" cy="221.87" r="3.3" fill="url(#gk)"/>
<circle cx="532.00" cy="227.65" r="3.3" fill="url(#gk)"/>
<circle cx="547.17" cy="224.76" r="3.3" fill="url(#gk)"/>
<circle cx="562.33" cy="227.27" r="3.3" fill="url(#gk)"/>
<circle cx="577.50" cy="226.52" r="3.3" fill="url(#gk)"/>
<circle cx="592.66" cy="227.90" r="3.3" fill="url(#gk)"/>
<circle cx="607.83" cy="226.52" r="3.3" fill="url(#gk)"/>
<circle cx="622.99" cy="228.53" r="3.3" fill="url(#gk)"/>
<circle cx="638.16" cy="226.52" r="3.3" fill="url(#gk)"/>
<circle cx="653.32" cy="229.16" r="3.3" fill="url(#gk)"/>
<circle cx="441.01" cy="129.84" r="3.3" fill="url(#gr)"/>
<circle cx="456.18" cy="197.64" r="3.3" fill="url(#gr)"/>
<circle cx="471.34" cy="201.53" r="3.3" fill="url(#gr)"/>
<circle cx="486.51" cy="217.98" r="3.3" fill="url(#gr)"/>
<circle cx="501.67" cy="213.84" r="3.3" fill="url(#gr)"/>
<circle cx="516.84" cy="214.84" r="3.3" fill="url(#gr)"/>
<circle cx="532.00" cy="217.86" r="3.3" fill="url(#gr)"/>
<circle cx="547.17" cy="217.35" r="3.3" fill="url(#gr)"/>
<circle cx="562.33" cy="219.74" r="3.3" fill="url(#gr)"/>
<circle cx="577.50" cy="217.48" r="3.3" fill="url(#gr)"/>
<circle cx="592.66" cy="221.87" r="3.3" fill="url(#gr)"/>
<circle cx="607.83" cy="218.23" r="3.3" fill="url(#gr)"/>
<circle cx="622.99" cy="222.13" r="3.3" fill="url(#gr)"/>
<circle cx="638.16" cy="218.23" r="3.3" fill="url(#gr)"/>
<circle cx="653.32" cy="223.00" r="3.3" fill="url(#gr)"/>
<circle cx="441.01" cy="108.74" r="3.3" fill="url(#gb)"/>
<circle cx="456.18" cy="176.55" r="3.3" fill="url(#gb)"/>
<circle cx="471.34" cy="201.53" r="3.3" fill="url(#gb)"/>
<circle cx="486.51" cy="214.47" r="3.3" fill="url(#gb)"/>
<circle cx="501.67" cy="203.92" r="3.3" fill="url(#gb)"/>
<circle cx="516.84" cy="215.09" r="3.3" fill="url(#gb)"/>
<circle cx="532.00" cy="212.71" r="3.3" fill="url(#gb)"/>
<circle cx="547.17" cy="216.73" r="3.3" fill="url(#gb)"/>
<circle cx="562.33" cy="213.34" r="3.3" fill="url(#gb)"/>
<circle cx="577.50" cy="213.59" r="3.3" fill="url(#gb)"/>
<circle cx="592.66" cy="213.59" r="3.3" fill="url(#gb)"/>
<circle cx="607.83" cy="213.46" r="3.3" fill="url(#gb)"/>
<circle cx="622.99" cy="215.22" r="3.3" fill="url(#gb)"/>
<circle cx="638.16" cy="212.08" r="3.3" fill="url(#gb)"/>
<circle cx="653.32" cy="214.59" r="3.3" fill="url(#gb)"/>
<circle cx="441.01" cy="107.61" r="3.3" fill="url(#gp)"/>
<circle cx="456.18" cy="146.79" r="3.3" fill="url(#gp)"/>
<circle cx="471.34" cy="186.21" r="3.3" fill="url(#gp)"/>
<circle cx="486.51" cy="207.31" r="3.3" fill="url(#gp)"/>
<circle cx="501.67" cy="192.87" r="3.3" fill="url(#gp)"/>
<circle cx="516.84" cy="208.82" r="3.3" fill="url(#gp)"/>
<circle cx="532.00" cy="207.94" r="3.3" fill="url(#gp)"/>
<circle cx="547.17" cy="209.95" r="3.3" fill="url(#gp)"/>
<circle cx="562.33" cy="207.31" r="3.3" fill="url(#gp)"/>
<circle cx="577.50" cy="208.82" r="3.3" fill="url(#gp)"/>
<circle cx="592.66" cy="208.56" r="3.3" fill="url(#gp)"/>
<circle cx="607.83" cy="207.81" r="3.3" fill="url(#gp)"/>
<circle cx="622.99" cy="209.95" r="3.3" fill="url(#gp)"/>
<circle cx="638.16" cy="207.06" r="3.3" fill="url(#gp)"/>
<circle cx="653.32" cy="209.44" r="3.3" fill="url(#gp)"/>
<circle cx="441.01" cy="74.21" r="3.3" fill="url(#gg)"/>
<circle cx="456.18" cy="138.25" r="3.3" fill="url(#gg)"/>
<circle cx="471.34" cy="177.17" r="3.3" fill="url(#gg)"/>
<circle cx="486.51" cy="208.06" r="3.3" fill="url(#gg)"/>
<circle cx="501.67" cy="193.25" r="3.3" fill="url(#gg)"/>
<circle cx="516.84" cy="206.68" r="3.3" fill="url(#gg)"/>
<circle cx="532.00" cy="204.17" r="3.3" fill="url(#gg)"/>
<circle cx="547.17" cy="208.56" r="3.3" fill="url(#gg)"/>
<circle cx="562.33" cy="205.80" r="3.3" fill="url(#gg)"/>
<circle cx="577.50" cy="207.06" r="3.3" fill="url(#gg)"/>
<circle cx="592.66" cy="206.56" r="3.3" fill="url(#gg)"/>
<circle cx="607.83" cy="206.56" r="3.3" fill="url(#gg)"/>
<circle cx="622.99" cy="207.81" r="3.3" fill="url(#gg)"/>
<circle cx="638.16" cy="205.80" r="3.3" fill="url(#gg)"/>
<circle cx="653.32" cy="207.81" r="3.3" fill="url(#gg)"/>
<circle cx="441.01" cy="76.09" r="3.3" fill="url(#gn)"/>
<circle cx="456.18" cy="136.87" r="3.3" fill="url(#gn)"/>
<circle cx="471.34" cy="172.15" r="3.3" fill="url(#gn)"/>
<circle cx="486.51" cy="204.55" r="3.3" fill="url(#gn)"/>
<circle cx="501.67" cy="193.62" r="3.3" fill="url(#gn)"/>
<circle cx="516.84" cy="205.43" r="3.3" fill="url(#gn)"/>
<circle cx="532.00" cy="205.17" r="3.3" fill="url(#gn)"/>
<circle cx="547.17" cy="205.80" r="3.3" fill="url(#gn)"/>
<circle cx="562.33" cy="205.93" r="3.3" fill="url(#gn)"/>
<circle cx="577.50" cy="205.30" r="3.3" fill="url(#gn)"/>
<circle cx="592.66" cy="206.43" r="3.3" fill="url(#gn)"/>
<circle cx="607.83" cy="205.80" r="3.3" fill="url(#gn)"/>
<circle cx="622.99" cy="206.68" r="3.3" fill="url(#gn)"/>
<circle cx="638.16" cy="204.04" r="3.3" fill="url(#gn)"/>
<circle cx="653.32" cy="206.56" r="3.3" fill="url(#gn)"/>
<circle cx="441.01" cy="80.49" r="3.3" fill="url(#gv)"/>
<circle cx="456.18" cy="126.95" r="3.3" fill="url(#gv)"/>
<circle cx="471.34" cy="185.84" r="3.3" fill="url(#gv)"/>
<circle cx="486.51" cy="205.80" r="3.3" fill="url(#gv)"/>
<circle cx="501.67" cy="191.74" r="3.3" fill="url(#gv)"/>
<circle cx="516.84" cy="205.17" r="3.3" fill="url(#gv)"/>
<circle cx="532.00" cy="201.28" r="3.3" fill="url(#gv)"/>
<circle cx="547.17" cy="204.55" r="3.3" fill="url(#gv)"/>
<circle cx="562.33" cy="204.04" r="3.3" fill="url(#gv)"/>
<circle cx="577.50" cy="204.80" r="3.3" fill="url(#gv)"/>
<circle cx="592.66" cy="204.80" r="3.3" fill="url(#gv)"/>
<circle cx="607.83" cy="204.80" r="3.3" fill="url(#gv)"/>
<circle cx="622.99" cy="205.80" r="3.3" fill="url(#gv)"/>
<circle cx="638.16" cy="202.91" r="3.3" fill="url(#gv)"/>
<circle cx="653.32" cy="205.30" r="3.3" fill="url(#gv)"/>
<circle cx="441.01" cy="70.95" r="3.3" fill="url(#gu)"/>
<circle cx="456.18" cy="115.90" r="3.3" fill="url(#gu)"/>
<circle cx="471.34" cy="169.14" r="3.3" fill="url(#gu)"/>
<circle cx="486.51" cy="200.90" r="3.3" fill="url(#gu)"/>
<circle cx="501.67" cy="187.85" r="3.3" fill="url(#gu)"/>
<circle cx="516.84" cy="204.80" r="3.3" fill="url(#gu)"/>
<circle cx="532.00" cy="197.26" r="3.3" fill="url(#gu)"/>
<circle cx="547.17" cy="202.66" r="3.3" fill="url(#gu)"/>
<circle cx="562.33" cy="201.28" r="3.3" fill="url(#gu)"/>
<circle cx="577.50" cy="203.04" r="3.3" fill="url(#gu)"/>
<circle cx="592.66" cy="202.91" r="3.3" fill="url(#gu)"/>
<circle cx="607.83" cy="203.92" r="3.3" fill="url(#gu)"/>
<circle cx="622.99" cy="204.04" r="3.3" fill="url(#gu)"/>
<circle cx="638.16" cy="201.53" r="3.3" fill="url(#gu)"/>
<circle cx="653.32" cy="204.04" r="3.3" fill="url(#gu)"/>
<circle cx="441.01" cy="56.63" r="3.3" fill="url(#gm)"/>
<circle cx="456.18" cy="110.75" r="3.3" fill="url(#gm)"/>
<circle cx="471.34" cy="180.69" r="3.3" fill="url(#gm)"/>
<circle cx="486.51" cy="196.89" r="3.3" fill="url(#gm)"/>
<circle cx="501.67" cy="182.07" r="3.3" fill="url(#gm)"/>
<circle cx="516.84" cy="201.78" r="3.3" fill="url(#gm)"/>
<circle cx="532.00" cy="193.62" r="3.3" fill="url(#gm)"/>
<circle cx="547.17" cy="199.52" r="3.3" fill="url(#gm)"/>
<circle cx="562.33" cy="196.89" r="3.3" fill="url(#gm)"/>
<circle cx="577.50" cy="198.77" r="3.3" fill="url(#gm)"/>
<circle cx="592.66" cy="201.03" r="3.3" fill="url(#gm)"/>
<circle cx="607.83" cy="200.28" r="3.3" fill="url(#gm)"/>
<circle cx="622.99" cy="202.16" r="3.3" fill="url(#gm)"/>
<circle cx="638.16" cy="199.15" r="3.3" fill="url(#gm)"/>
<circle cx="653.32" cy="201.78" r="3.3" fill="url(#gm)"/>
<rect x="410.65" y="37.80" width="272.75" height="200.95" fill="none" stroke="#000" stroke-width="1.6"/>
<line x1="425.85" y1="238.75" x2="425.85" y2="234.15" stroke="#000" stroke-width="1.4"/>
<line x1="425.85" y1="37.80" x2="425.85" y2="42.40" stroke="#000" stroke-width="1.4"/>
<line x1="441.01" y1="238.75" x2="441.01" y2="235.75" stroke="#000" stroke-width="1.4"/>
<line x1="441.01" y1="37.80" x2="441.01" y2="40.80" stroke="#000" stroke-width="1.4"/>
<line x1="456.18" y1="238.75" x2="456.18" y2="234.15" stroke="#000" stroke-width="1.4"/>
<line x1="456.18" y1="37.80" x2="456.18" y2="42.40" stroke="#000" stroke-width="1.4"/>
<line x1="471.34" y1="238.75" x2="471.34" y2="235.75" stroke="#000" stroke-width="1.4"/>
<line x1="471.34" y1="37.80" x2="471.34" y2="40.80" stroke="#000" stroke-width="1.4"/>
<line x1="486.51" y1="238.75" x2="486.51" y2="234.15" stroke="#000" stroke-width="1.4"/>
<line x1="486.51" y1="37.80" x2="486.51" y2="42.40" stroke="#000" stroke-width="1.4"/>
<line x1="501.67" y1="238.75" x2="501.67" y2="235.75" stroke="#000" stroke-width="1.4"/>
<line x1="501.67" y1="37.80" x2="501.67" y2="40.80" stroke="#000" stroke-width="1.4"/>
<line x1="516.84" y1="238.75" x2="516.84" y2="234.15" stroke="#000" stroke-width="1.4"/>
<line x1="516.84" y1="37.80" x2="516.84" y2="42.40" stroke="#000" stroke-width="1.4"/>
<line x1="532.00" y1="238.75" x2="532.00" y2="235.75" stroke="#000" stroke-width="1.4"/>
<line x1="532.00" y1="37.80" x2="532.00" y2="40.80" stroke="#000" stroke-width="1.4"/>
<line x1="547.17" y1="238.75" x2="547.17" y2="234.15" stroke="#000" stroke-width="1.4"/>
<line x1="547.17" y1="37.80" x2="547.17" y2="42.40" stroke="#000" stroke-width="1.4"/>
<line x1="562.33" y1="238.75" x2="562.33" y2="235.75" stroke="#000" stroke-width="1.4"/>
<line x1="562.33" y1="37.80" x2="562.33" y2="40.80" stroke="#000" stroke-width="1.4"/>
<line x1="577.50" y1="238.75" x2="577.50" y2="234.15" stroke="#000" stroke-width="1.4"/>
<line x1="577.50" y1="37.80" x2="577.50" y2="42.40" stroke="#000" stroke-width="1.4"/>
<line x1="592.66" y1="238.75" x2="592.66" y2="235.75" stroke="#000" stroke-width="1.4"/>
<line x1="592.66" y1="37.80" x2="592.66" y2="40.80" stroke="#000" stroke-width="1.4"/>
<line x1="607.83" y1="238.75" x2="607.83" y2="234.15" stroke="#000" stroke-width="1.4"/>
<line x1="607.83" y1="37.80" x2="607.83" y2="42.40" stroke="#000" stroke-width="1.4"/>
<line x1="622.99" y1="238.75" x2="622.99" y2="235.75" stroke="#000" stroke-width="1.4"/>
<line x1="622.99" y1="37.80" x2="622.99" y2="40.80" stroke="#000" stroke-width="1.4"/>
<line x1="638.16" y1="238.75" x2="638.16" y2="234.15" stroke="#000" stroke-width="1.4"/>
<line x1="638.16" y1="37.80" x2="638.16" y2="42.40" stroke="#000" stroke-width="1.4"/>
<line x1="653.32" y1="238.75" x2="653.32" y2="235.75" stroke="#000" stroke-width="1.4"/>
<line x1="653.32" y1="37.80" x2="653.32" y2="40.80" stroke="#000" stroke-width="1.4"/>
<line x1="668.49" y1="238.75" x2="668.49" y2="234.15" stroke="#000" stroke-width="1.4"/>
<line x1="668.49" y1="37.80" x2="668.49" y2="42.40" stroke="#000" stroke-width="1.4"/>
<line x1="410.65" y1="238.75" x2="415.25" y2="238.75" stroke="#000" stroke-width="1.4"/>
<line x1="683.40" y1="238.75" x2="678.80" y2="238.75" stroke="#000" stroke-width="1.4"/>
<line x1="410.65" y1="219.91" x2="413.65" y2="219.91" stroke="#000" stroke-width="1.4"/>
<line x1="683.40" y1="219.91" x2="680.40" y2="219.91" stroke="#000" stroke-width="1.4"/>
<line x1="410.65" y1="201.07" x2="415.25" y2="201.07" stroke="#000" stroke-width="1.4"/>
<line x1="683.40" y1="201.07" x2="678.80" y2="201.07" stroke="#000" stroke-width="1.4"/>
<line x1="410.65" y1="182.23" x2="413.65" y2="182.23" stroke="#000" stroke-width="1.4"/>
<line x1="683.40" y1="182.23" x2="680.40" y2="182.23" stroke="#000" stroke-width="1.4"/>
<line x1="410.65" y1="163.39" x2="415.25" y2="163.39" stroke="#000" stroke-width="1.4"/>
<line x1="683.40" y1="163.39" x2="678.80" y2="163.39" stroke="#000" stroke-width="1.4"/>
<line x1="410.65" y1="144.55" x2="413.65" y2="144.55" stroke="#000" stroke-width="1.4"/>
<line x1="683.40" y1="144.55" x2="680.40" y2="144.55" stroke="#000" stroke-width="1.4"/>
<line x1="410.65" y1="125.72" x2="415.25" y2="125.72" stroke="#000" stroke-width="1.4"/>
<line x1="683.40" y1="125.72" x2="678.80" y2="125.72" stroke="#000" stroke-width="1.4"/>
<line x1="410.65" y1="106.88" x2="413.65" y2="106.88" stroke="#000" stroke-width="1.4"/>
<line x1="683.40" y1="106.88" x2="680.40" y2="106.88" stroke="#000" stroke-width="1.4"/>
<line x1="410.65" y1="88.04" x2="415.25" y2="88.04" stroke="#000" stroke-width="1.4"/>
<line x1="683.40" y1="88.04" x2="678.80" y2="88.04" stroke="#000" stroke-width="1.4"/>
<line x1="410.65" y1="69.20" x2="413.65" y2="69.20" stroke="#000" stroke-width="1.4"/>
<line x1="683.40" y1="69.20" x2="680.40" y2="69.20" stroke="#000" stroke-width="1.4"/>
<line x1="410.65" y1="50.36" x2="415.25" y2="50.36" stroke="#000" stroke-width="1.4"/>
<line x1="683.40" y1="50.36" x2="678.80" y2="50.36" stroke="#000" stroke-width="1.4"/>
<text x="371.33" y="54.51" font-family="Liberation Sans" font-weight="bold" font-size="18.50" textLength="36.13" lengthAdjust="spacingAndGlyphs" fill="#000" stroke="#000" stroke-width="0.4">1500</text>
<text x="371.33" y="92.19" font-family="Liberation Sans" font-weight="bold" font-size="18.50" textLength="36.13" lengthAdjust="spacingAndGlyphs" fill="#000" stroke="#000" stroke-width="0.4">1200</text>
<text x="380.37" y="129.87" font-family="Liberation Sans" font-weight="bold" font-size="18.50" textLength="27.10" lengthAdjust="spacingAndGlyphs" fill="#000" stroke="#000" stroke-width="0.4">900</text>
<text x="380.37" y="167.54" font-family="Liberation Sans" font-weight="bold" font-size="18.50" textLength="27.10" lengthAdjust="spacingAndGlyphs" fill="#000" stroke="#000" stroke-width="0.4">600</text>
<text x="380.37" y="205.22" font-family="Liberation Sans" font-weight="bold" font-size="18.50" textLength="27.10" lengthAdjust="spacingAndGlyphs" fill="#000" stroke="#000" stroke-width="0.4">300</text>
<text x="398.43" y="242.90" font-family="Liberation Sans" font-weight="bold" font-size="18.50" textLength="9.03" lengthAdjust="spacingAndGlyphs" fill="#000" stroke="#000" stroke-width="0.4">0</text>
<text x="422.10" y="255.35" font-family="Liberation Sans" font-weight="bold" font-size="18.50" textLength="9.03" lengthAdjust="spacingAndGlyphs" fill="#000" stroke="#000" stroke-width="0.4">0</text>
<text x="452.46" y="255.35" font-family="Liberation Sans" font-weight="bold" font-size="18.50" textLength="9.03" lengthAdjust="spacingAndGlyphs" fill="#000" stroke="#000" stroke-width="0.4">2</text>
<text x="482.66" y="255.35" font-family="Liberation Sans" font-weight="bold" font-size="18.50" textLength="9.03" lengthAdjust="spacingAndGlyphs" fill="#000" stroke="#000" stroke-width="0.4">4</text>
<text x="513.07" y="255.35" font-family="Liberation Sans" font-weight="bold" font-size="18.50" textLength="9.03" lengthAdjust="spacingAndGlyphs" fill="#000" stroke="#000" stroke-width="0.4">6</text>
<text x="543.40" y="255.35" font-family="Liberation Sans" font-weight="bold" font-size="18.50" textLength="9.03" lengthAdjust="spacingAndGlyphs" fill="#000" stroke="#000" stroke-width="0.4">8</text>
<text x="569.04" y="255.35" font-family="Liberation Sans" font-weight="bold" font-size="18.50" textLength="18.07" lengthAdjust="spacingAndGlyphs" fill="#000" stroke="#000" stroke-width="0.4">10</text>
<text x="599.36" y="255.35" font-family="Liberation Sans" font-weight="bold" font-size="18.50" textLength="18.07" lengthAdjust="spacingAndGlyphs" fill="#000" stroke="#000" stroke-width="0.4">12</text>
<text x="629.41" y="255.35" font-family="Liberation Sans" font-weight="bold" font-size="18.50" textLength="18.07" lengthAdjust="spacingAndGlyphs" fill="#000" stroke="#000" stroke-width="0.4">14</text>
<text x="659.99" y="255.35" font-family="Liberation Sans" font-weight="bold" font-size="18.50" textLength="18.07" lengthAdjust="spacingAndGlyphs" fill="#000" stroke="#000" stroke-width="0.4">16</text>
<line x1="628.40" y1="54.40" x2="648.30" y2="54.40" stroke="#222" stroke-width="1" stroke-opacity="0.75"/>
<circle cx="638.20" cy="54.40" r="3.3" fill="url(#gk)"/>
<text x="653.70" y="56.70" font-family="Liberation Sans" font-weight="bold" font-size="10.00" textLength="14.03" lengthAdjust="spacingAndGlyphs" fill="#000">0.1</text>
<line x1="628.40" y1="65.13" x2="648.30" y2="65.13" stroke="#e8242c" stroke-width="1" stroke-opacity="0.75"/>
<circle cx="638.20" cy="65.13" r="3.3" fill="url(#gr)"/>
<text x="653.70" y="67.59" font-family="Liberation Sans" font-weight="bold" font-size="10.00" textLength="14.03" lengthAdjust="spacingAndGlyphs" fill="#000">0.2</text>
<line x1="628.40" y1="75.86" x2="648.30" y2="75.86" stroke="#3558b0" stroke-width="1" stroke-opacity="0.75"/>
<circle cx="638.20" cy="75.86" r="3.3" fill="url(#gb)"/>
<text x="653.70" y="78.48" font-family="Liberation Sans" font-weight="bold" font-size="10.00" textLength="14.03" lengthAdjust="spacingAndGlyphs" fill="#000">0.3</text>
<line x1="628.40" y1="86.59" x2="648.30" y2="86.59" stroke="#c070c0" stroke-width="1" stroke-opacity="0.75"/>
<circle cx="638.20" cy="86.59" r="3.3" fill="url(#gp)"/>
<text x="653.70" y="89.37" font-family="Liberation Sans" font-weight="bold" font-size="10.00" textLength="14.03" lengthAdjust="spacingAndGlyphs" fill="#000">0.4</text>
<line x1="628.40" y1="97.32" x2="648.30" y2="97.32" stroke="#209040" stroke-width="1" stroke-opacity="0.75"/>
<circle cx="638.20" cy="97.32" r="3.3" fill="url(#gg)"/>
<text x="653.70" y="100.26" font-family="Liberation Sans" font-weight="bold" font-size="10.00" textLength="19.65" lengthAdjust="spacingAndGlyphs" fill="#000">0.45</text>
<line x1="628.40" y1="108.05" x2="648.30" y2="108.05" stroke="#2a3478" stroke-width="1" stroke-opacity="0.75"/>
<circle cx="638.20" cy="108.05" r="3.3" fill="url(#gn)"/>
<text x="653.70" y="111.15" font-family="Liberation Sans" font-weight="bold" font-size="10.00" textLength="14.03" lengthAdjust="spacingAndGlyphs" fill="#000">0.5</text>
<line x1="628.40" y1="118.78" x2="648.30" y2="118.78" stroke="#7058b8" stroke-width="1" stroke-opacity="0.75"/>
<circle cx="638.20" cy="118.78" r="3.3" fill="url(#gv)"/>
<text x="653.70" y="122.04" font-family="Liberation Sans" font-weight="bold" font-size="10.00" textLength="19.65" lengthAdjust="spacingAndGlyphs" fill="#000">0.55</text>
<line x1="628.40" y1="129.51" x2="648.30" y2="129.51" stroke="#902a98" stroke-width="1" stroke-opacity="0.75"/>
<circle cx="638.20" cy="129.51" r="3.3" fill="url(#gu)"/>
<text x="653.70" y="132.93" font-family="Liberation Sans" font-weight="bold" font-size="10.00" textLength="14.03" lengthAdjust="spacingAndGlyphs" fill="#000">0.6</text>
<line x1="628.40" y1="140.24" x2="648.30" y2="140.24" stroke="#94242a" stroke-width="1" stroke-opacity="0.75"/>
<circle cx="638.20" cy="140.24" r="3.3" fill="url(#gm)"/>
<text x="653.70" y="143.82" font-family="Liberation Sans" font-weight="bold" font-size="10.00" textLength="14.03" lengthAdjust="spacingAndGlyphs" fill="#000">0.7</text>
<text x="651.25" y="32.40" font-family="Liberation Serif" font-weight="normal" font-size="13.60" textLength="8.09" lengthAdjust="spacingAndGlyphs" fill="#000" stroke="#000" stroke-width="0.45">δ</text>
<text x="663.97" y="32.73" font-family="Liberation Sans" font-weight="normal" font-size="12.10" textLength="7.57" lengthAdjust="spacingAndGlyphs" fill="#000" stroke="#000" stroke-width="0.25">=</text>
<text x="487.66" y="58.45" font-family="Liberation Sans" font-weight="bold" font-size="12.20" textLength="121.72" lengthAdjust="spacingAndGlyphs" fill="#000">Total change number</text>
<text x="355.91" y="16.00" font-family="Liberation Sans" font-weight="normal" font-size="21.50" textLength="27.49" lengthAdjust="spacingAndGlyphs" fill="#000">(b)</text>
<text x="484.93" y="269.80" font-family="Liberation Sans" font-weight="bold" font-size="18.00" textLength="122.71" lengthAdjust="spacingAndGlyphs" fill="#000" stroke="#000" stroke-width="0.4">Training number</text>
<text transform="translate(368.40,193.10) rotate(-90)" x="-1.07" y="0" font-family="Liberation Sans" font-weight="bold" font-size="18.20" textLength="130.72" lengthAdjust="spacingAndGlyphs" stroke="#000" stroke-width="0.4">Number of image</text>
<rect x="62.70" y="351.96" width="7.10" height="188.94" fill="#0a0707"/>
<rect x="70.05" y="437.26" width="6.8" height="103.64" fill="#e8181c" stroke="#8a1010" stroke-width="0.5"/>
<rect x="80.48" y="423.60" width="7.10" height="117.30" fill="#0a0707"/>
<rect x="87.83" y="475.29" width="6.8" height="65.61" fill="#e8181c" stroke="#8a1010" stroke-width="0.5"/>
<rect x="98.26" y="381.63" width="7.10" height="159.27" fill="#0a0707"/>
<rect x="105.61" y="498.53" width="6.8" height="42.37" fill="#e8181c" stroke="#8a1010" stroke-width="0.5"/>
<rect x="116.04" y="423.60" width="7.10" height="117.30" fill="#0a0707"/>
<rect x="123.39" y="520.16" width="6.8" height="20.74" fill="#e8181c" stroke="#8a1010" stroke-width="0.5"/>
<rect x="133.82" y="434.05" width="7.10" height="106.85" fill="#0a0707"/>
<rect x="141.17" y="512.28" width="6.8" height="28.62" fill="#e8181c" stroke="#8a1010" stroke-width="0.5"/>
<rect x="151.60" y="430.35" width="7.10" height="110.55" fill="#0a0707"/>
<rect x="158.95" y="519.03" width="6.8" height="21.87" fill="#e8181c" stroke="#8a1010" stroke-width="0.5"/>
<rect x="169.38" y="466.37" width="7.10" height="74.53" fill="#0a0707"/>
<rect x="176.73" y="519.59" width="6.8" height="21.31" fill="#e8181c" stroke="#8a1010" stroke-width="0.5"/>
<rect x="187.16" y="454.47" width="7.10" height="86.43" fill="#0a0707"/>
<rect x="194.51" y="519.03" width="6.8" height="21.87" fill="#e8181c" stroke="#8a1010" stroke-width="0.5"/>
<rect x="204.94" y="473.52" width="7.10" height="67.38" fill="#0a0707"/>
<rect x="212.29" y="520.00" width="6.8" height="20.90" fill="#e8181c" stroke="#8a1010" stroke-width="0.5"/>
<rect x="222.72" y="459.45" width="7.10" height="81.45" fill="#0a0707"/>
<rect x="230.07" y="519.03" width="6.8" height="21.87" fill="#e8181c" stroke="#8a1010" stroke-width="0.5"/>
<rect x="240.50" y="479.55" width="7.10" height="61.35" fill="#0a0707"/>
<rect x="247.85" y="520.48" width="6.8" height="20.42" fill="#e8181c" stroke="#8a1010" stroke-width="0.5"/>
<rect x="258.28" y="464.92" width="7.10" height="75.98" fill="#0a0707"/>
<rect x="265.63" y="519.59" width="6.8" height="21.31" fill="#e8181c" stroke="#8a1010" stroke-width="0.5"/>
<rect x="276.06" y="482.93" width="7.10" height="57.97" fill="#0a0707"/>
<rect x="283.41" y="520.24" width="6.8" height="20.66" fill="#e8181c" stroke="#8a1010" stroke-width="0.5"/>
<rect x="293.84" y="466.77" width="7.10" height="74.13" fill="#0a0707"/>
<rect x="301.19" y="518.79" width="6.8" height="22.11" fill="#e8181c" stroke="#8a1010" stroke-width="0.5"/>
<rect x="311.62" y="485.58" width="7.10" height="55.32" fill="#0a0707"/>
<rect x="318.97" y="520.24" width="6.8" height="20.66" fill="#e8181c" stroke="#8a1010" stroke-width="0.5"/>
<rect x="57.50" y="339.90" width="272.80" height="201.00" fill="none" stroke="#000" stroke-width="1.6"/>
<line x1="69.80" y1="339.90" x2="69.80" y2="342.90" stroke="#000" stroke-width="1.4"/>
<line x1="87.58" y1="339.90" x2="87.58" y2="344.50" stroke="#000" stroke-width="1.4"/>
<line x1="105.36" y1="339.90" x2="105.36" y2="342.90" stroke="#000" stroke-width="1.4"/>
<line x1="123.14" y1="339.90" x2="123.14" y2="344.50" stroke="#000" stroke-width="1.4"/>
<line x1="140.92" y1="339.90" x2="140.92" y2="342.90" stroke="#000" stroke-width="1.4"/>
<line x1="158.70" y1="339.90" x2="158.70" y2="344.50" stroke="#000" stroke-width="1.4"/>
<line x1="176.48" y1="339.90" x2="176.48" y2="342.90" stroke="#000" stroke-width="1.4"/>
<line x1="194.26" y1="339.90" x2="194.26" y2="344.50" stroke="#000" stroke-width="1.4"/>
<line x1="212.04" y1="339.90" x2="212.04" y2="342.90" stroke="#000" stroke-width="1.4"/>
<line x1="229.82" y1="339.90" x2="229.82" y2="344.50" stroke="#000" stroke-width="1.4"/>
<line x1="247.60" y1="339.90" x2="247.60" y2="342.90" stroke="#000" stroke-width="1.4"/>
<line x1="265.38" y1="339.90" x2="265.38" y2="344.50" stroke="#000" stroke-width="1.4"/>
<line x1="283.16" y1="339.90" x2="283.16" y2="342.90" stroke="#000" stroke-width="1.4"/>
<line x1="300.94" y1="339.90" x2="300.94" y2="344.50" stroke="#000" stroke-width="1.4"/>
<line x1="318.72" y1="339.90" x2="318.72" y2="342.90" stroke="#000" stroke-width="1.4"/>
<line x1="57.50" y1="540.90" x2="62.10" y2="540.90" stroke="#000" stroke-width="1.4"/>
<line x1="330.30" y1="540.90" x2="325.70" y2="540.90" stroke="#000" stroke-width="1.4"/>
<line x1="57.50" y1="520.80" x2="60.50" y2="520.80" stroke="#000" stroke-width="1.4"/>
<line x1="330.30" y1="520.80" x2="327.30" y2="520.80" stroke="#000" stroke-width="1.4"/>
<line x1="57.50" y1="500.70" x2="62.10" y2="500.70" stroke="#000" stroke-width="1.4"/>
<line x1="330.30" y1="500.70" x2="325.70" y2="500.70" stroke="#000" stroke-width="1.4"/>
<line x1="57.50" y1="480.60" x2="60.50" y2="480.60" stroke="#000" stroke-width="1.4"/>
<line x1="330.30" y1="480.60" x2="327.30" y2="480.60" stroke="#000" stroke-width="1.4"/>
<line x1="57.50" y1="460.50" x2="62.10" y2="460.50" stroke="#000" stroke-width="1.4"/>
<line x1="330.30" y1="460.50" x2="325.70" y2="460.50" stroke="#000" stroke-width="1.4"/>
<line x1="57.50" y1="440.40" x2="60.50" y2="440.40" stroke="#000" stroke-width="1.4"/>
<line x1="330.30" y1="440.40" x2="327.30" y2="440.40" stroke="#000" stroke-width="1.4"/>
<line x1="57.50" y1="420.30" x2="62.10" y2="420.30" stroke="#000" stroke-width="1.4"/>
<line x1="330.30" y1="420.30" x2="325.70" y2="420.30" stroke="#000" stroke-width="1.4"/>
<line x1="57.50" y1="400.20" x2="60.50" y2="400.20" stroke="#000" stroke-width="1.4"/>
<line x1="330.30" y1="400.20" x2="327.30" y2="400.20" stroke="#000" stroke-width="1.4"/>
<line x1="57.50" y1="380.10" x2="62.10" y2="380.10" stroke="#000" stroke-width="1.4"/>
<line x1="330.30" y1="380.10" x2="325.70" y2="380.10" stroke="#000" stroke-width="1.4"/>
<line x1="57.50" y1="360.00" x2="60.50" y2="360.00" stroke="#000" stroke-width="1.4"/>
<line x1="330.30" y1="360.00" x2="327.30" y2="360.00" stroke="#000" stroke-width="1.4"/>
<line x1="57.50" y1="339.90" x2="62.10" y2="339.90" stroke="#000" stroke-width="1.4"/>
<line x1="330.30" y1="339.90" x2="325.70" y2="339.90" stroke="#000" stroke-width="1.4"/>
<text x="18.53" y="343.90" font-family="Liberation Sans" font-weight="bold" font-size="18.50" textLength="36.13" lengthAdjust="spacingAndGlyphs" fill="#000" stroke="#000" stroke-width="0.4">2500</text>
<text x="18.53" y="384.10" font-family="Liberation Sans" font-weight="bold" font-size="18.50" textLength="36.13" lengthAdjust="spacingAndGlyphs" fill="#000" stroke="#000" stroke-width="0.4">2000</text>
<text x="18.53" y="424.30" font-family="Liberation Sans" font-weight="bold" font-size="18.50" textLength="36.13" lengthAdjust="spacingAndGlyphs" fill="#000" stroke="#000" stroke-width="0.4">1500</text>
<text x="18.53" y="464.50" font-family="Liberation Sans" font-weight="bold" font-size="18.50" textLength="36.13" lengthAdjust="spacingAndGlyphs" fill="#000" stroke="#000" stroke-width="0.4">1000</text>
<text x="27.57" y="504.70" font-family="Liberation Sans" font-weight="bold" font-size="18.50" textLength="27.10" lengthAdjust="spacingAndGlyphs" fill="#000" stroke="#000" stroke-width="0.4">500</text>
<text x="45.63" y="544.90" font-family="Liberation Sans" font-weight="bold" font-size="18.50" textLength="9.03" lengthAdjust="spacingAndGlyphs" fill="#000" stroke="#000" stroke-width="0.4">0</text>
<text x="83.78" y="557.30" font-family="Liberation Sans" font-weight="bold" font-size="18.20" textLength="8.89" lengthAdjust="spacingAndGlyphs" fill="#000" stroke="#000" stroke-width="0.4">2</text>
<text x="119.22" y="557.30" font-family="Liberation Sans" font-weight="bold" font-size="18.20" textLength="8.89" lengthAdjust="spacingAndGlyphs" fill="#000" stroke="#000" stroke-width="0.4">4</text>
<text x="154.85" y="557.30" font-family="Liberation Sans" font-weight="bold" font-size="18.20" textLength="8.89" lengthAdjust="spacingAndGlyphs" fill="#000" stroke="#000" stroke-width="0.4">6</text>
<text x="190.41" y="557.30" font-family="Liberation Sans" font-weight="bold" font-size="18.20" textLength="8.89" lengthAdjust="spacingAndGlyphs" fill="#000" stroke="#000" stroke-width="0.4">8</text>
<text x="221.36" y="557.30" font-family="Liberation Sans" font-weight="bold" font-size="18.20" textLength="17.77" lengthAdjust="spacingAndGlyphs" fill="#000" stroke="#000" stroke-width="0.4">10</text>
<text x="256.91" y="557.30" font-family="Liberation Sans" font-weight="bold" font-size="18.20" textLength="17.77" lengthAdjust="spacingAndGlyphs" fill="#000" stroke="#000" stroke-width="0.4">12</text>
<text x="292.19" y="557.30" font-family="Liberation Sans" font-weight="bold" font-size="18.20" textLength="17.77" lengthAdjust="spacingAndGlyphs" fill="#000" stroke="#000" stroke-width="0.4">14</text>
<text x="129.03" y="573.20" font-family="Liberation Sans" font-weight="bold" font-size="18.00" textLength="122.21" lengthAdjust="spacingAndGlyphs" fill="#000" stroke="#000" stroke-width="0.4">Training number</text>
<text transform="translate(13.80,503.00) rotate(-90)" x="-1.08" y="0" font-family="Liberation Sans" font-weight="bold" font-size="18.20" textLength="132.14" lengthAdjust="spacingAndGlyphs" stroke="#000" stroke-width="0.4">Number of image</text>
<text x="4.75" y="318.40" font-family="Liberation Sans" font-weight="normal" font-size="21.50" textLength="27.30" lengthAdjust="spacingAndGlyphs" fill="#000">(c)</text>
<text x="196.47" y="331.80" font-family="Liberation Sans" font-weight="bold" font-size="10.90" textLength="124.93" lengthAdjust="spacingAndGlyphs" fill="#000">-1.65 V / 100 ms / δ = 0.5</text>
<rect x="172.90" y="383.40" width="21.90" height="10.30" fill="#0a0707"/>
<rect x="173.2" y="395.7" width="21.3" height="9.9" fill="#e8181c" stroke="#8a1010" stroke-width="0.6"/>
<text x="197.28" y="391.80" font-family="Liberation Sans" font-weight="bold" font-size="10.80" textLength="125.89" lengthAdjust="spacingAndGlyphs" fill="#000">Total evaluation number</text>
<text x="197.28" y="404.00" font-family="Liberation Sans" font-weight="bold" font-size="10.80" textLength="110.09" lengthAdjust="spacingAndGlyphs" fill="#000">Total change number</text>
<defs><pattern id="hb" patternUnits="userSpaceOnUse" width="5.7" height="5.7"><path d="M-1,6.7 L6.7,-1 M-1,1 L1,-1 M4.7,6.7 L6.7,4.7" stroke="#3e9e72" stroke-width="0.7"/></pattern><pattern id="hr" patternUnits="userSpaceOnUse" width="5.7" height="5.7"><path d="M-1,6.7 L6.7,-1 M-1,1 L1,-1 M4.7,6.7 L6.7,4.7" stroke="#2a0404" stroke-width="0.6"/></pattern><pattern id="hk" patternUnits="userSpaceOnUse" width="5.7" height="5.7"><path d="M-1,6.7 L6.7,-1 M-1,1 L1,-1 M4.7,6.7 L6.7,4.7" stroke="#c4c4c4" stroke-width="0.65"/></pattern><pattern id="lb" patternUnits="userSpaceOnUse" x="494.3" y="309.8" width="6.6" height="6.6"><path d="M-1,7.6 L7.6,-1 M-1,1 L1,-1 M5.6,7.6 L7.6,5.6" stroke="#3aa08a" stroke-width="0.8"/></pattern><pattern id="lr" patternUnits="userSpaceOnUse" x="494.3" y="319.9" width="6.6" height="6.6"><path d="M-1,7.6 L7.6,-1 M-1,1 L1,-1 M5.6,7.6 L7.6,5.6" stroke="#400808" stroke-width="0.8"/></pattern><pattern id="lk" patternUnits="userSpaceOnUse" x="494.3" y="330.0" width="6.6" height="6.6"><path d="M-1,7.6 L7.6,-1 M-1,1 L1,-1 M5.6,7.6 L7.6,5.6" stroke="#b4b4b4" stroke-width="0.8"/></pattern></defs>
<rect x="415.50" y="346.60" width="7.20" height="49.64" fill="#1b48a4"/>
<rect x="415.50" y="396.24" width="7.20" height="99.60" fill="#e8181c"/>
<rect x="415.50" y="495.83" width="7.20" height="45.17" fill="#0a0707"/>
<rect x="415.50" y="346.60" width="7.20" height="49.64" fill="url(#hb)"/>
<rect x="415.50" y="396.24" width="7.20" height="99.60" fill="url(#hr)"/>
<rect x="415.50" y="495.83" width="7.20" height="45.17" fill="url(#hk)"/>
<line x1="415.50" y1="396.24" x2="422.70" y2="396.24" stroke="#200a14" stroke-width="0.6" stroke-opacity="0.75"/>
<rect x="415.50" y="346.60" width="7.20" height="194.40" fill="none" stroke="#0a0f25" stroke-opacity="0.8" stroke-width="0.55"/>
<rect x="422.70" y="346.60" width="7.90" height="48.34" fill="#1b48a4"/>
<rect x="422.70" y="394.94" width="7.90" height="74.00" fill="#e8181c"/>
<rect x="422.70" y="468.94" width="7.90" height="72.06" fill="#0a0707"/>
<line x1="422.70" y1="394.94" x2="430.60" y2="394.94" stroke="#200a14" stroke-width="0.6" stroke-opacity="0.75"/>
<rect x="422.70" y="346.60" width="7.90" height="194.40" fill="none" stroke="#0a0f25" stroke-opacity="0.8" stroke-width="0.55"/>
<rect x="433.25" y="346.60" width="7.20" height="102.32" fill="#1b48a4"/>
<rect x="433.25" y="448.92" width="7.20" height="81.39" fill="#e8181c"/>
<rect x="433.25" y="530.31" width="7.20" height="10.69" fill="#0a0707"/>
<rect x="433.25" y="346.60" width="7.20" height="102.32" fill="url(#hb)"/>
<rect x="433.25" y="448.92" width="7.20" height="81.39" fill="url(#hr)"/>
<rect x="433.25" y="530.31" width="7.20" height="10.69" fill="url(#hk)"/>
<line x1="433.25" y1="448.92" x2="440.44" y2="448.92" stroke="#200a14" stroke-width="0.6" stroke-opacity="0.75"/>
<rect x="433.25" y="346.60" width="7.20" height="194.40" fill="none" stroke="#0a0f25" stroke-opacity="0.8" stroke-width="0.55"/>
<rect x="440.44" y="346.60" width="7.90" height="47.43" fill="#1b48a4"/>
<rect x="440.44" y="394.03" width="7.90" height="99.79" fill="#e8181c"/>
<rect x="440.44" y="493.83" width="7.90" height="47.17" fill="#0a0707"/>
<line x1="440.44" y1="394.03" x2="448.34" y2="394.03" stroke="#200a14" stroke-width="0.6" stroke-opacity="0.75"/>
<rect x="440.44" y="346.60" width="7.90" height="194.40" fill="none" stroke="#0a0f25" stroke-opacity="0.8" stroke-width="0.55"/>
<rect x="450.99" y="346.60" width="7.20" height="77.44" fill="#1b48a4"/>
<rect x="450.99" y="424.04" width="7.20" height="17.88" fill="#e8181c"/>
<rect x="450.99" y="441.92" width="7.20" height="99.08" fill="#0a0707"/>
<rect x="450.99" y="346.60" width="7.20" height="77.44" fill="url(#hb)"/>
<rect x="450.99" y="424.04" width="7.20" height="17.88" fill="url(#hr)"/>
<rect x="450.99" y="441.92" width="7.20" height="99.08" fill="url(#hk)"/>
<line x1="450.99" y1="424.04" x2="458.19" y2="424.04" stroke="#200a14" stroke-width="0.6" stroke-opacity="0.75"/>
<rect x="450.99" y="346.60" width="7.20" height="194.40" fill="none" stroke="#0a0f25" stroke-opacity="0.8" stroke-width="0.55"/>
<rect x="458.19" y="346.60" width="7.90" height="59.62" fill="#1b48a4"/>
<rect x="458.19" y="406.22" width="7.90" height="61.88" fill="#e8181c"/>
<rect x="458.19" y="468.10" width="7.90" height="72.90" fill="#0a0707"/>
<line x1="458.19" y1="406.22" x2="466.09" y2="406.22" stroke="#200a14" stroke-width="0.6" stroke-opacity="0.75"/>
<rect x="458.19" y="346.60" width="7.90" height="194.40" fill="none" stroke="#0a0f25" stroke-opacity="0.8" stroke-width="0.55"/>
<rect x="468.74" y="346.60" width="7.20" height="47.76" fill="#1b48a4"/>
<rect x="468.74" y="394.36" width="7.20" height="97.26" fill="#e8181c"/>
<rect x="468.74" y="491.62" width="7.20" height="49.38" fill="#0a0707"/>
<rect x="468.74" y="346.60" width="7.20" height="47.76" fill="url(#hb)"/>
<rect x="468.74" y="394.36" width="7.20" height="97.26" fill="url(#hr)"/>
<rect x="468.74" y="491.62" width="7.20" height="49.38" fill="url(#hk)"/>
<line x1="468.74" y1="394.36" x2="475.94" y2="394.36" stroke="#200a14" stroke-width="0.6" stroke-opacity="0.75"/>
<rect x="468.74" y="346.60" width="7.20" height="194.40" fill="none" stroke="#0a0f25" stroke-opacity="0.8" stroke-width="0.55"/>
<rect x="475.94" y="346.60" width="7.90" height="52.81" fill="#1b48a4"/>
<rect x="475.94" y="399.41" width="7.90" height="71.28" fill="#e8181c"/>
<rect x="475.94" y="470.69" width="7.90" height="70.31" fill="#0a0707"/>
<line x1="475.94" y1="399.41" x2="483.83" y2="399.41" stroke="#200a14" stroke-width="0.6" stroke-opacity="0.75"/>
<rect x="475.94" y="346.60" width="7.90" height="194.40" fill="none" stroke="#0a0f25" stroke-opacity="0.8" stroke-width="0.55"/>
<rect x="486.48" y="346.60" width="7.20" height="61.43" fill="#1b48a4"/>
<rect x="486.48" y="408.03" width="7.20" height="65.38" fill="#e8181c"/>
<rect x="486.48" y="473.41" width="7.20" height="67.59" fill="#0a0707"/>
<rect x="486.48" y="346.60" width="7.20" height="61.43" fill="url(#hb)"/>
<rect x="486.48" y="408.03" width="7.20" height="65.38" fill="url(#hr)"/>
<rect x="486.48" y="473.41" width="7.20" height="67.59" fill="url(#hk)"/>
<line x1="486.48" y1="408.03" x2="493.68" y2="408.03" stroke="#200a14" stroke-width="0.6" stroke-opacity="0.75"/>
<rect x="486.48" y="346.60" width="7.20" height="194.40" fill="none" stroke="#0a0f25" stroke-opacity="0.8" stroke-width="0.55"/>
<rect x="493.68" y="346.60" width="7.90" height="57.74" fill="#1b48a4"/>
<rect x="493.68" y="404.34" width="7.90" height="63.70" fill="#e8181c"/>
<rect x="493.68" y="468.04" width="7.90" height="72.96" fill="#0a0707"/>
<line x1="493.68" y1="404.34" x2="501.58" y2="404.34" stroke="#200a14" stroke-width="0.6" stroke-opacity="0.75"/>
<rect x="493.68" y="346.60" width="7.90" height="194.40" fill="none" stroke="#0a0f25" stroke-opacity="0.8" stroke-width="0.55"/>
<rect x="504.23" y="346.60" width="7.20" height="77.70" fill="#1b48a4"/>
<rect x="504.23" y="424.30" width="7.20" height="47.30" fill="#e8181c"/>
<rect x="504.23" y="471.60" width="7.20" height="69.40" fill="#0a0707"/>
<rect x="504.23" y="346.60" width="7.20" height="77.70" fill="url(#hb)"/>
<rect x="504.23" y="424.30" width="7.20" height="47.30" fill="url(#hr)"/>
<rect x="504.23" y="471.60" width="7.20" height="69.40" fill="url(#hk)"/>
<line x1="504.23" y1="424.30" x2="511.43" y2="424.30" stroke="#200a14" stroke-width="0.6" stroke-opacity="0.75"/>
<rect x="504.23" y="346.60" width="7.20" height="194.40" fill="none" stroke="#0a0f25" stroke-opacity="0.8" stroke-width="0.55"/>
<rect x="511.43" y="346.60" width="7.90" height="64.99" fill="#1b48a4"/>
<rect x="511.43" y="411.59" width="7.90" height="58.71" fill="#e8181c"/>
<rect x="511.43" y="470.30" width="7.90" height="70.70" fill="#0a0707"/>
<line x1="511.43" y1="411.59" x2="519.33" y2="411.59" stroke="#200a14" stroke-width="0.6" stroke-opacity="0.75"/>
<rect x="511.43" y="346.60" width="7.90" height="194.40" fill="none" stroke="#0a0f25" stroke-opacity="0.8" stroke-width="0.55"/>
<rect x="521.97" y="346.60" width="7.20" height="52.75" fill="#1b48a4"/>
<rect x="521.97" y="399.35" width="7.20" height="74.65" fill="#e8181c"/>
<rect x="521.97" y="474.00" width="7.20" height="67.00" fill="#0a0707"/>
<rect x="521.97" y="346.60" width="7.20" height="52.75" fill="url(#hb)"/>
<rect x="521.97" y="399.35" width="7.20" height="74.65" fill="url(#hr)"/>
<rect x="521.97" y="474.00" width="7.20" height="67.00" fill="url(#hk)"/>
<line x1="521.97" y1="399.35" x2="529.17" y2="399.35" stroke="#200a14" stroke-width="0.6" stroke-opacity="0.75"/>
<rect x="521.97" y="346.60" width="7.20" height="194.40" fill="none" stroke="#0a0f25" stroke-opacity="0.8" stroke-width="0.55"/>
<rect x="529.17" y="346.60" width="7.90" height="55.02" fill="#1b48a4"/>
<rect x="529.17" y="401.62" width="7.90" height="67.26" fill="#e8181c"/>
<rect x="529.17" y="468.88" width="7.90" height="72.12" fill="#0a0707"/>
<line x1="529.17" y1="401.62" x2="537.07" y2="401.62" stroke="#200a14" stroke-width="0.6" stroke-opacity="0.75"/>
<rect x="529.17" y="346.60" width="7.90" height="194.40" fill="none" stroke="#0a0f25" stroke-opacity="0.8" stroke-width="0.55"/>
<rect x="539.71" y="346.60" width="7.20" height="69.92" fill="#1b48a4"/>
<rect x="539.71" y="416.52" width="7.20" height="59.29" fill="#e8181c"/>
<rect x="539.71" y="475.81" width="7.20" height="65.19" fill="#0a0707"/>
<rect x="539.71" y="346.60" width="7.20" height="69.92" fill="url(#hb)"/>
<rect x="539.71" y="416.52" width="7.20" height="59.29" fill="url(#hr)"/>
<rect x="539.71" y="475.81" width="7.20" height="65.19" fill="url(#hk)"/>
<line x1="539.71" y1="416.52" x2="546.91" y2="416.52" stroke="#200a14" stroke-width="0.6" stroke-opacity="0.75"/>
<rect x="539.71" y="346.60" width="7.20" height="194.40" fill="none" stroke="#0a0f25" stroke-opacity="0.8" stroke-width="0.55"/>
<rect x="546.91" y="346.60" width="7.90" height="63.70" fill="#1b48a4"/>
<rect x="546.91" y="410.30" width="7.90" height="60.39" fill="#e8181c"/>
<rect x="546.91" y="470.69" width="7.90" height="70.31" fill="#0a0707"/>
<line x1="546.91" y1="410.30" x2="554.81" y2="410.30" stroke="#200a14" stroke-width="0.6" stroke-opacity="0.75"/>
<rect x="546.91" y="346.60" width="7.90" height="194.40" fill="none" stroke="#0a0f25" stroke-opacity="0.8" stroke-width="0.55"/>
<rect x="557.46" y="346.60" width="7.20" height="57.74" fill="#1b48a4"/>
<rect x="557.46" y="404.34" width="7.20" height="72.19" fill="#e8181c"/>
<rect x="557.46" y="476.52" width="7.20" height="64.48" fill="#0a0707"/>
<rect x="557.46" y="346.60" width="7.20" height="57.74" fill="url(#hb)"/>
<rect x="557.46" y="404.34" width="7.20" height="72.19" fill="url(#hr)"/>
<rect x="557.46" y="476.52" width="7.20" height="64.48" fill="url(#hk)"/>
<line x1="557.46" y1="404.34" x2="564.66" y2="404.34" stroke="#200a14" stroke-width="0.6" stroke-opacity="0.75"/>
<rect x="557.46" y="346.60" width="7.20" height="194.40" fill="none" stroke="#0a0f25" stroke-opacity="0.8" stroke-width="0.55"/>
<rect x="564.66" y="346.60" width="7.90" height="57.74" fill="#1b48a4"/>
<rect x="564.66" y="404.34" width="7.90" height="64.54" fill="#e8181c"/>
<rect x="564.66" y="468.88" width="7.90" height="72.12" fill="#0a0707"/>
<line x1="564.66" y1="404.34" x2="572.56" y2="404.34" stroke="#200a14" stroke-width="0.6" stroke-opacity="0.75"/>
<rect x="564.66" y="346.60" width="7.90" height="194.40" fill="none" stroke="#0a0f25" stroke-opacity="0.8" stroke-width="0.55"/>
<rect x="575.20" y="346.60" width="7.20" height="75.95" fill="#1b48a4"/>
<rect x="575.20" y="422.55" width="7.20" height="54.17" fill="#e8181c"/>
<rect x="575.20" y="476.72" width="7.20" height="64.28" fill="#0a0707"/>
<rect x="575.20" y="346.60" width="7.20" height="75.95" fill="url(#hb)"/>
<rect x="575.20" y="422.55" width="7.20" height="54.17" fill="url(#hr)"/>
<rect x="575.20" y="476.72" width="7.20" height="64.28" fill="url(#hk)"/>
<line x1="575.20" y1="422.55" x2="582.40" y2="422.55" stroke="#200a14" stroke-width="0.6" stroke-opacity="0.75"/>
<rect x="575.20" y="346.60" width="7.20" height="194.40" fill="none" stroke="#0a0f25" stroke-opacity="0.8" stroke-width="0.55"/>
<rect x="582.40" y="346.60" width="7.90" height="67.39" fill="#1b48a4"/>
<rect x="582.40" y="413.99" width="7.90" height="57.09" fill="#e8181c"/>
<rect x="582.40" y="471.08" width="7.90" height="69.92" fill="#0a0707"/>
<line x1="582.40" y1="413.99" x2="590.30" y2="413.99" stroke="#200a14" stroke-width="0.6" stroke-opacity="0.75"/>
<rect x="582.40" y="346.60" width="7.90" height="194.40" fill="none" stroke="#0a0f25" stroke-opacity="0.8" stroke-width="0.55"/>
<rect x="592.95" y="346.60" width="7.20" height="58.32" fill="#1b48a4"/>
<rect x="592.95" y="404.92" width="7.20" height="73.09" fill="#e8181c"/>
<rect x="592.95" y="478.01" width="7.20" height="62.99" fill="#0a0707"/>
<rect x="592.95" y="346.60" width="7.20" height="58.32" fill="url(#hb)"/>
<rect x="592.95" y="404.92" width="7.20" height="73.09" fill="url(#hr)"/>
<rect x="592.95" y="478.01" width="7.20" height="62.99" fill="url(#hk)"/>
<line x1="592.95" y1="404.92" x2="600.15" y2="404.92" stroke="#200a14" stroke-width="0.6" stroke-opacity="0.75"/>
<rect x="592.95" y="346.60" width="7.20" height="194.40" fill="none" stroke="#0a0f25" stroke-opacity="0.8" stroke-width="0.55"/>
<rect x="600.15" y="346.60" width="7.90" height="57.74" fill="#1b48a4"/>
<rect x="600.15" y="404.34" width="7.90" height="68.56" fill="#e8181c"/>
<rect x="600.15" y="472.90" width="7.90" height="68.10" fill="#0a0707"/>
<line x1="600.15" y1="404.34" x2="608.05" y2="404.34" stroke="#200a14" stroke-width="0.6" stroke-opacity="0.75"/>
<rect x="600.15" y="346.60" width="7.90" height="194.40" fill="none" stroke="#0a0f25" stroke-opacity="0.8" stroke-width="0.55"/>
<rect x="610.69" y="346.60" width="7.20" height="71.02" fill="#1b48a4"/>
<rect x="610.69" y="417.62" width="7.20" height="58.19" fill="#e8181c"/>
<rect x="610.69" y="475.81" width="7.20" height="65.19" fill="#0a0707"/>
<rect x="610.69" y="346.60" width="7.20" height="71.02" fill="url(#hb)"/>
<rect x="610.69" y="417.62" width="7.20" height="58.19" fill="url(#hr)"/>
<rect x="610.69" y="475.81" width="7.20" height="65.19" fill="url(#hk)"/>
<line x1="610.69" y1="417.62" x2="617.89" y2="417.62" stroke="#200a14" stroke-width="0.6" stroke-opacity="0.75"/>
<rect x="610.69" y="346.60" width="7.20" height="194.40" fill="none" stroke="#0a0f25" stroke-opacity="0.8" stroke-width="0.55"/>
<rect x="617.89" y="346.60" width="7.90" height="64.09" fill="#1b48a4"/>
<rect x="617.89" y="410.69" width="7.90" height="60.00" fill="#e8181c"/>
<rect x="617.89" y="470.69" width="7.90" height="70.31" fill="#0a0707"/>
<line x1="617.89" y1="410.69" x2="625.79" y2="410.69" stroke="#200a14" stroke-width="0.6" stroke-opacity="0.75"/>
<rect x="617.89" y="346.60" width="7.90" height="194.40" fill="none" stroke="#0a0f25" stroke-opacity="0.8" stroke-width="0.55"/>
<rect x="628.44" y="346.60" width="7.20" height="54.69" fill="#1b48a4"/>
<rect x="628.44" y="401.29" width="7.20" height="69.79" fill="#e8181c"/>
<rect x="628.44" y="471.08" width="7.20" height="69.92" fill="#0a0707"/>
<rect x="628.44" y="346.60" width="7.20" height="54.69" fill="url(#hb)"/>
<rect x="628.44" y="401.29" width="7.20" height="69.79" fill="url(#hr)"/>
<rect x="628.44" y="471.08" width="7.20" height="69.92" fill="url(#hk)"/>
<line x1="628.44" y1="401.29" x2="635.64" y2="401.29" stroke="#200a14" stroke-width="0.6" stroke-opacity="0.75"/>
<rect x="628.44" y="346.60" width="7.20" height="194.40" fill="none" stroke="#0a0f25" stroke-opacity="0.8" stroke-width="0.55"/>
<rect x="635.64" y="346.60" width="7.90" height="54.69" fill="#1b48a4"/>
<rect x="635.64" y="401.29" width="7.90" height="68.04" fill="#e8181c"/>
<rect x="635.64" y="469.33" width="7.90" height="71.67" fill="#0a0707"/>
<line x1="635.64" y1="401.29" x2="643.54" y2="401.29" stroke="#200a14" stroke-width="0.6" stroke-opacity="0.75"/>
<rect x="635.64" y="346.60" width="7.90" height="194.40" fill="none" stroke="#0a0f25" stroke-opacity="0.8" stroke-width="0.55"/>
<rect x="646.18" y="346.60" width="7.20" height="72.71" fill="#1b48a4"/>
<rect x="646.18" y="419.31" width="7.20" height="62.01" fill="#e8181c"/>
<rect x="646.18" y="481.32" width="7.20" height="59.68" fill="#0a0707"/>
<rect x="646.18" y="346.60" width="7.20" height="72.71" fill="url(#hb)"/>
<rect x="646.18" y="419.31" width="7.20" height="62.01" fill="url(#hr)"/>
<rect x="646.18" y="481.32" width="7.20" height="59.68" fill="url(#hk)"/>
<line x1="646.18" y1="419.31" x2="653.38" y2="419.31" stroke="#200a14" stroke-width="0.6" stroke-opacity="0.75"/>
<rect x="646.18" y="346.60" width="7.20" height="194.40" fill="none" stroke="#0a0f25" stroke-opacity="0.8" stroke-width="0.55"/>
<rect x="653.38" y="346.60" width="7.90" height="66.81" fill="#1b48a4"/>
<rect x="653.38" y="413.41" width="7.90" height="62.79" fill="#e8181c"/>
<rect x="653.38" y="476.20" width="7.90" height="64.80" fill="#0a0707"/>
<line x1="653.38" y1="413.41" x2="661.28" y2="413.41" stroke="#200a14" stroke-width="0.6" stroke-opacity="0.75"/>
<rect x="653.38" y="346.60" width="7.90" height="194.40" fill="none" stroke="#0a0f25" stroke-opacity="0.8" stroke-width="0.55"/>
<rect x="663.93" y="346.60" width="7.20" height="58.32" fill="#1b48a4"/>
<rect x="663.93" y="404.92" width="7.20" height="67.98" fill="#e8181c"/>
<rect x="663.93" y="472.90" width="7.20" height="68.10" fill="#0a0707"/>
<rect x="663.93" y="346.60" width="7.20" height="58.32" fill="url(#hb)"/>
<rect x="663.93" y="404.92" width="7.20" height="67.98" fill="url(#hr)"/>
<rect x="663.93" y="472.90" width="7.20" height="68.10" fill="url(#hk)"/>
<line x1="663.93" y1="404.92" x2="671.13" y2="404.92" stroke="#200a14" stroke-width="0.6" stroke-opacity="0.75"/>
<rect x="663.93" y="346.60" width="7.20" height="194.40" fill="none" stroke="#0a0f25" stroke-opacity="0.8" stroke-width="0.55"/>
<rect x="671.13" y="346.60" width="7.90" height="59.03" fill="#1b48a4"/>
<rect x="671.13" y="405.63" width="7.90" height="66.87" fill="#e8181c"/>
<rect x="671.13" y="472.51" width="7.90" height="68.49" fill="#0a0707"/>
<line x1="671.13" y1="405.63" x2="679.03" y2="405.63" stroke="#200a14" stroke-width="0.6" stroke-opacity="0.75"/>
<rect x="671.13" y="346.60" width="7.90" height="194.40" fill="none" stroke="#0a0f25" stroke-opacity="0.8" stroke-width="0.55"/>
<polyline points="422.70,498.49 440.44,458.90 458.19,485.27 475.94,505.62 493.68,524.74 511.43,520.33 529.17,520.33 546.91,525.32 564.66,522.73 582.40,524.74 600.15,523.44 617.89,524.48 635.64,524.02 653.38,525.32 671.13,524.48" fill="none" stroke="#72b83a" stroke-width="1.1"/>
<circle cx="422.70" cy="498.49" r="3.6" fill="url(#gL)"/>
<circle cx="440.44" cy="458.90" r="3.6" fill="url(#gL)"/>
<circle cx="458.19" cy="485.27" r="3.6" fill="url(#gL)"/>
<circle cx="475.94" cy="505.62" r="3.6" fill="url(#gL)"/>
<circle cx="493.68" cy="524.74" r="3.6" fill="url(#gL)"/>
<circle cx="511.43" cy="520.33" r="3.6" fill="url(#gL)"/>
<circle cx="529.17" cy="520.33" r="3.6" fill="url(#gL)"/>
<circle cx="546.91" cy="525.32" r="3.6" fill="url(#gL)"/>
<circle cx="564.66" cy="522.73" r="3.6" fill="url(#gL)"/>
<circle cx="582.40" cy="524.74" r="3.6" fill="url(#gL)"/>
<circle cx="600.15" cy="523.44" r="3.6" fill="url(#gL)"/>
<circle cx="617.89" cy="524.48" r="3.6" fill="url(#gL)"/>
<circle cx="635.64" cy="524.02" r="3.6" fill="url(#gL)"/>
<circle cx="653.38" cy="525.32" r="3.6" fill="url(#gL)"/>
<circle cx="671.13" cy="524.48" r="3.6" fill="url(#gL)"/>
<rect x="500.10" y="491.30" width="172.60" height="20.20" fill="#262a2a"/>
<text x="508.86" y="504.70" font-family="Liberation Sans" font-weight="bold" font-size="12.50" textLength="154.75" lengthAdjust="spacingAndGlyphs" fill="#6cbe2c">Total classification change</text>
<rect x="410.65" y="339.85" width="273.35" height="201.15" fill="none" stroke="#000" stroke-width="1.8"/>
<line x1="423.10" y1="339.85" x2="423.10" y2="342.85" stroke="#000" stroke-width="1.6"/>
<line x1="440.84" y1="339.85" x2="440.84" y2="344.75" stroke="#000" stroke-width="1.6"/>
<line x1="458.59" y1="339.85" x2="458.59" y2="342.85" stroke="#000" stroke-width="1.6"/>
<line x1="476.33" y1="339.85" x2="476.33" y2="344.75" stroke="#000" stroke-width="1.6"/>
<line x1="494.08" y1="339.85" x2="494.08" y2="342.85" stroke="#000" stroke-width="1.6"/>
<line x1="511.82" y1="339.85" x2="511.82" y2="344.75" stroke="#000" stroke-width="1.6"/>
<line x1="529.57" y1="339.85" x2="529.57" y2="342.85" stroke="#000" stroke-width="1.6"/>
<line x1="547.31" y1="339.85" x2="547.31" y2="344.75" stroke="#000" stroke-width="1.6"/>
<line x1="565.06" y1="339.85" x2="565.06" y2="342.85" stroke="#000" stroke-width="1.6"/>
<line x1="582.80" y1="339.85" x2="582.80" y2="344.75" stroke="#000" stroke-width="1.6"/>
<line x1="600.55" y1="339.85" x2="600.55" y2="342.85" stroke="#000" stroke-width="1.6"/>
<line x1="618.29" y1="339.85" x2="618.29" y2="344.75" stroke="#000" stroke-width="1.6"/>
<line x1="636.04" y1="339.85" x2="636.04" y2="342.85" stroke="#000" stroke-width="1.6"/>
<line x1="653.78" y1="339.85" x2="653.78" y2="344.75" stroke="#000" stroke-width="1.6"/>
<line x1="671.53" y1="339.85" x2="671.53" y2="342.85" stroke="#000" stroke-width="1.6"/>
<line x1="410.65" y1="541.00" x2="415.25" y2="541.00" stroke="#000" stroke-width="1.4"/>
<line x1="684.00" y1="541.00" x2="679.40" y2="541.00" stroke="#000" stroke-width="1.4"/>
<line x1="410.65" y1="524.80" x2="413.65" y2="524.80" stroke="#000" stroke-width="1.4"/>
<line x1="684.00" y1="524.80" x2="681.00" y2="524.80" stroke="#000" stroke-width="1.4"/>
<line x1="410.65" y1="508.60" x2="415.25" y2="508.60" stroke="#000" stroke-width="1.4"/>
<line x1="684.00" y1="508.60" x2="679.40" y2="508.60" stroke="#000" stroke-width="1.4"/>
<line x1="410.65" y1="492.40" x2="413.65" y2="492.40" stroke="#000" stroke-width="1.4"/>
<line x1="684.00" y1="492.40" x2="681.00" y2="492.40" stroke="#000" stroke-width="1.4"/>
<line x1="410.65" y1="476.20" x2="415.25" y2="476.20" stroke="#000" stroke-width="1.4"/>
<line x1="684.00" y1="476.20" x2="679.40" y2="476.20" stroke="#000" stroke-width="1.4"/>
<line x1="410.65" y1="460.00" x2="413.65" y2="460.00" stroke="#000" stroke-width="1.4"/>
<line x1="684.00" y1="460.00" x2="681.00" y2="460.00" stroke="#000" stroke-width="1.4"/>
<line x1="410.65" y1="443.80" x2="415.25" y2="443.80" stroke="#000" stroke-width="1.4"/>
<line x1="684.00" y1="443.80" x2="679.40" y2="443.80" stroke="#000" stroke-width="1.4"/>
<line x1="410.65" y1="427.60" x2="413.65" y2="427.60" stroke="#000" stroke-width="1.4"/>
<line x1="684.00" y1="427.60" x2="681.00" y2="427.60" stroke="#000" stroke-width="1.4"/>
<line x1="410.65" y1="411.40" x2="415.25" y2="411.40" stroke="#000" stroke-width="1.4"/>
<line x1="684.00" y1="411.40" x2="679.40" y2="411.40" stroke="#000" stroke-width="1.4"/>
<line x1="410.65" y1="395.20" x2="413.65" y2="395.20" stroke="#000" stroke-width="1.4"/>
<line x1="684.00" y1="395.20" x2="681.00" y2="395.20" stroke="#000" stroke-width="1.4"/>
<line x1="410.65" y1="379.00" x2="415.25" y2="379.00" stroke="#000" stroke-width="1.4"/>
<line x1="684.00" y1="379.00" x2="679.40" y2="379.00" stroke="#000" stroke-width="1.4"/>
<line x1="410.65" y1="362.80" x2="413.65" y2="362.80" stroke="#000" stroke-width="1.4"/>
<line x1="684.00" y1="362.80" x2="681.00" y2="362.80" stroke="#000" stroke-width="1.4"/>
<line x1="410.65" y1="346.60" x2="415.25" y2="346.60" stroke="#000" stroke-width="1.4"/>
<line x1="684.00" y1="346.60" x2="679.40" y2="346.60" stroke="#000" stroke-width="1.4"/>
<text x="371.79" y="350.40" font-family="Liberation Sans" font-weight="bold" font-size="18.00" textLength="35.16" lengthAdjust="spacingAndGlyphs" fill="#000" stroke="#000" stroke-width="0.4">3000</text>
<text x="371.79" y="382.80" font-family="Liberation Sans" font-weight="bold" font-size="18.00" textLength="35.16" lengthAdjust="spacingAndGlyphs" fill="#000" stroke="#000" stroke-width="0.4">2500</text>
<text x="371.79" y="415.20" font-family="Liberation Sans" font-weight="bold" font-size="18.00" textLength="35.16" lengthAdjust="spacingAndGlyphs" fill="#000" stroke="#000" stroke-width="0.4">2000</text>
<text x="371.79" y="447.60" font-family="Liberation Sans" font-weight="bold" font-size="18.00" textLength="35.16" lengthAdjust="spacingAndGlyphs" fill="#000" stroke="#000" stroke-width="0.4">1500</text>
<text x="371.79" y="480.00" font-family="Liberation Sans" font-weight="bold" font-size="18.00" textLength="35.16" lengthAdjust="spacingAndGlyphs" fill="#000" stroke="#000" stroke-width="0.4">1000</text>
<text x="380.58" y="512.40" font-family="Liberation Sans" font-weight="bold" font-size="18.00" textLength="26.37" lengthAdjust="spacingAndGlyphs" fill="#000" stroke="#000" stroke-width="0.4">500</text>
<text x="398.16" y="544.80" font-family="Liberation Sans" font-weight="bold" font-size="18.00" textLength="8.79" lengthAdjust="spacingAndGlyphs" fill="#000" stroke="#000" stroke-width="0.4">0</text>
<text x="436.99" y="557.30" font-family="Liberation Sans" font-weight="bold" font-size="18.00" textLength="8.79" lengthAdjust="spacingAndGlyphs" fill="#000" stroke="#000" stroke-width="0.4">2</text>
<text x="472.36" y="557.30" font-family="Liberation Sans" font-weight="bold" font-size="18.00" textLength="8.79" lengthAdjust="spacingAndGlyphs" fill="#000" stroke="#000" stroke-width="0.4">4</text>
<text x="507.93" y="557.30" font-family="Liberation Sans" font-weight="bold" font-size="18.00" textLength="8.79" lengthAdjust="spacingAndGlyphs" fill="#000" stroke="#000" stroke-width="0.4">6</text>
<text x="543.41" y="557.30" font-family="Liberation Sans" font-weight="bold" font-size="18.00" textLength="8.79" lengthAdjust="spacingAndGlyphs" fill="#000" stroke="#000" stroke-width="0.4">8</text>
<text x="574.34" y="557.30" font-family="Liberation Sans" font-weight="bold" font-size="18.00" textLength="17.58" lengthAdjust="spacingAndGlyphs" fill="#000" stroke="#000" stroke-width="0.4">10</text>
<text x="609.82" y="557.30" font-family="Liberation Sans" font-weight="bold" font-size="18.00" textLength="17.58" lengthAdjust="spacingAndGlyphs" fill="#000" stroke="#000" stroke-width="0.4">12</text>
<text x="645.04" y="557.30" font-family="Liberation Sans" font-weight="bold" font-size="18.00" textLength="17.58" lengthAdjust="spacingAndGlyphs" fill="#000" stroke="#000" stroke-width="0.4">14</text>
<text x="486.63" y="571.50" font-family="Liberation Sans" font-weight="bold" font-size="18.20" textLength="122.11" lengthAdjust="spacingAndGlyphs" fill="#000" stroke="#000" stroke-width="0.4">Training number</text>
<text transform="translate(366.40,508.50) rotate(-90)" x="-1.08" y="0" font-family="Liberation Sans" font-weight="bold" font-size="18.20" textLength="131.43" lengthAdjust="spacingAndGlyphs" stroke="#000" stroke-width="0.4">Number of image</text>
<text x="355.23" y="318.40" font-family="Liberation Sans" font-weight="normal" font-size="21.50" textLength="28.94" lengthAdjust="spacingAndGlyphs" fill="#000">(d)</text>
<text x="493.95" y="303.60" font-family="Liberation Sans" font-weight="bold" font-size="10.40" textLength="179.69" lengthAdjust="spacingAndGlyphs" fill="#000">Classified training images (δ = 0.5)</text>
<rect x="494.30" y="309.80" width="17.80" height="8.60" fill="#1b48a4"/>
<rect x="494.30" y="309.80" width="17.80" height="8.60" fill="url(#lb)"/>
<rect x="494.30" y="309.80" width="17.8" height="8.60" fill="none" stroke="#8a8a8a" stroke-width="1.0"/>
<rect x="588.30" y="309.80" width="17.80" height="8.60" fill="#1b48a4"/>
<rect x="588.30" y="309.80" width="17.8" height="8.60" fill="none" stroke="#8a8a8a" stroke-width="1.0"/>
<rect x="494.30" y="319.90" width="17.80" height="8.20" fill="#e8181c"/>
<rect x="494.30" y="319.90" width="17.80" height="8.20" fill="url(#lr)"/>
<rect x="494.30" y="319.90" width="17.8" height="8.20" fill="none" stroke="#8a8a8a" stroke-width="1.0"/>
<rect x="588.30" y="319.90" width="17.80" height="8.20" fill="#e8181c"/>
<rect x="588.30" y="319.90" width="17.8" height="8.20" fill="none" stroke="#8a8a8a" stroke-width="1.0"/>
<rect x="494.30" y="330.00" width="17.80" height="7.80" fill="#0a0707"/>
<rect x="494.30" y="330.00" width="17.80" height="7.80" fill="url(#lk)"/>
<rect x="494.30" y="330.00" width="17.8" height="7.80" fill="none" stroke="#8a8a8a" stroke-width="1.0"/>
<rect x="588.30" y="330.00" width="17.80" height="7.80" fill="#0a0707"/>
<rect x="588.30" y="330.00" width="17.8" height="7.80" fill="none" stroke="#8a8a8a" stroke-width="1.0"/>
<text x="513.94" y="317.20" font-family="Liberation Sans" font-weight="bold" font-size="8.80" textLength="52.68" lengthAdjust="spacingAndGlyphs" fill="#000">Boot (before)</text>
<text x="514.26" y="327.10" font-family="Liberation Sans" font-weight="bold" font-size="8.80" textLength="65.45" lengthAdjust="spacingAndGlyphs" fill="#000">Sneaker (before)</text>
<text x="514.26" y="337.00" font-family="Liberation Sans" font-weight="bold" font-size="8.80" textLength="61.16" lengthAdjust="spacingAndGlyphs" fill="#000">Sandal (before)</text>
<text x="608.33" y="317.20" font-family="Liberation Sans" font-weight="bold" font-size="8.80" textLength="45.79" lengthAdjust="spacingAndGlyphs" fill="#000">Boot (after)</text>
<text x="608.66" y="327.10" font-family="Liberation Sans" font-weight="bold" font-size="8.80" textLength="59.37" lengthAdjust="spacingAndGlyphs" fill="#000">Sneaker (after)</text>
<text x="608.66" y="337.00" font-family="Liberation Sans" font-weight="bold" font-size="8.80" textLength="53.56" lengthAdjust="spacingAndGlyphs" fill="#000">Sandal (after)</text>
</svg></body></html>
